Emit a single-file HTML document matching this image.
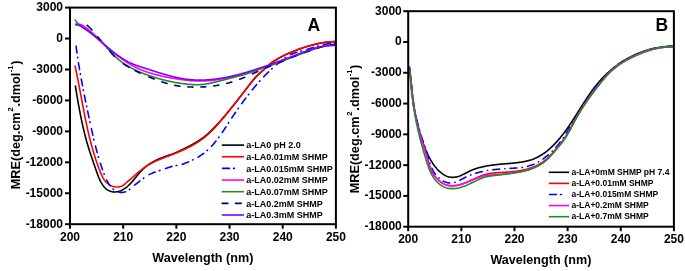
<!DOCTYPE html>
<html><head><meta charset="utf-8"><style>
html,body{margin:0;padding:0;background:#fff;width:685px;height:271px;overflow:hidden}
svg{display:block;font-family:"Liberation Sans",sans-serif;will-change:transform}
</style></head><body>
<svg width="685" height="271" viewBox="0 0 685 271">
<defs><clipPath id="cl"><rect x="71" y="8.6" width="264" height="214.6"/></clipPath><clipPath id="cr"><rect x="409.2" y="12.2" width="263.7" height="213.5"/></clipPath></defs>
<g clip-path="url(#cl)" fill="none" stroke-width="1.6">
<path d="M75.30 85.50 L75.43 86.28 L75.55 87.05 L75.68 87.83 L75.80 88.61 L75.93 89.39 L76.06 90.16 L76.18 90.94 L76.31 91.72 L76.44 92.50 L76.57 93.28 L76.70 94.06 L76.83 94.83 L76.96 95.61 L77.09 96.39 L77.22 97.17 L77.35 97.95 L77.49 98.73 L77.62 99.51 L77.76 100.29 L77.89 101.07 L78.03 101.84 L78.17 102.62 L78.30 103.40 L78.44 104.18 L78.58 104.96 L78.72 105.74 L78.86 106.52 L79.01 107.30 L79.15 108.08 L79.30 108.85 L79.44 109.63 L79.59 110.41 L79.74 111.19 L79.89 111.97 L80.04 112.74 L80.19 113.52 L80.34 114.30 L80.49 115.07 L80.65 115.85 L80.80 116.63 L80.96 117.40 L81.12 118.18 L81.28 118.96 L81.44 119.73 L81.61 120.51 L81.77 121.28 L81.94 122.06 L82.10 122.83 L82.27 123.60 L82.44 124.38 L82.62 125.15 L82.79 125.92 L82.96 126.69 L83.14 127.47 L83.32 128.24 L83.50 129.01 L83.68 129.78 L83.86 130.55 L84.05 131.32 L84.24 132.09 L84.42 132.86 L84.61 133.62 L84.81 134.39 L85.00 135.16 L85.20 135.92 L85.40 136.69 L85.60 137.45 L85.80 138.22 L86.00 138.98 L86.21 139.75 L86.41 140.51 L86.62 141.27 L86.84 142.03 L87.05 142.79 L87.27 143.55 L87.49 144.31 L87.71 145.07 L87.93 145.83 L88.15 146.58 L88.38 147.34 L88.61 148.10 L88.84 148.85 L89.08 149.61 L89.31 150.36 L89.55 151.11 L89.79 151.86 L90.04 152.61 L90.28 153.36 L90.53 154.11 L90.78 154.86 L91.03 155.61 L91.28 156.36 L91.53 157.11 L91.79 157.85 L92.04 158.60 L92.30 159.35 L92.56 160.09 L92.81 160.84 L93.07 161.58 L93.33 162.33 L93.59 163.08 L93.85 163.82 L94.12 164.57 L94.38 165.31 L94.64 166.06 L94.90 166.80 L95.16 167.55 L95.42 168.29 L95.68 169.04 L95.94 169.79 L96.20 170.53 L96.46 171.28 L96.72 172.03 L96.98 172.77 L97.25 173.52 L97.52 174.26 L97.79 175.00 L98.07 175.74 L98.36 176.48 L98.66 177.22 L98.96 177.95 L99.28 178.68 L99.61 179.40 L99.94 180.13 L100.30 180.84 L100.66 181.56 L101.04 182.26 L101.44 182.97 L101.85 183.66 L102.28 184.34 L102.73 185.02 L103.20 185.67 L103.69 186.31 L104.21 186.92 L104.74 187.51 L105.30 188.08 L105.88 188.61 L106.49 189.11 L107.12 189.57 L107.78 190.00 L108.46 190.39 L109.16 190.74 L109.88 191.05 L110.62 191.31 L111.37 191.53 L112.13 191.71 L112.90 191.84 L113.69 191.92 L114.47 191.95 L115.26 191.93 L116.06 191.88 L116.85 191.77 L117.63 191.63 L118.41 191.45 L119.19 191.23 L119.95 190.97 L120.70 190.68 L121.43 190.37 L122.16 190.02 L122.86 189.65 L123.56 189.26 L124.23 188.84 L124.89 188.41 L125.53 187.96 L126.16 187.50 L126.78 187.01 L127.38 186.51 L127.97 186.00 L128.54 185.47 L129.11 184.93 L129.67 184.38 L130.22 183.82 L130.76 183.24 L131.29 182.66 L131.81 182.07 L132.33 181.48 L132.85 180.87 L133.36 180.26 L133.86 179.65 L134.37 179.03 L134.87 178.41 L135.37 177.79 L135.87 177.17 L136.37 176.55 L136.87 175.92 L137.37 175.30 L137.87 174.69 L138.38 174.07 L138.90 173.46 L139.41 172.86 L139.94 172.26 L140.47 171.67 L141.01 171.09 L141.55 170.52 L142.11 169.96 L142.67 169.41 L143.25 168.86 L143.83 168.33 L144.42 167.81 L145.02 167.30 L145.63 166.80 L146.24 166.31 L146.87 165.84 L147.50 165.37 L148.14 164.91 L148.79 164.46 L149.44 164.02 L150.10 163.59 L150.77 163.16 L151.44 162.75 L152.12 162.35 L152.80 161.96 L153.50 161.58 L154.19 161.20 L154.89 160.84 L155.60 160.48 L156.31 160.13 L157.03 159.79 L157.75 159.46 L158.47 159.14 L159.20 158.83 L159.93 158.52 L160.66 158.23 L161.40 157.94 L162.14 157.66 L162.88 157.39 L163.63 157.12 L164.38 156.86 L165.12 156.61 L165.87 156.35 L166.62 156.10 L167.37 155.85 L168.12 155.59 L168.86 155.34 L169.61 155.08 L170.35 154.81 L171.09 154.53 L171.83 154.25 L172.56 153.97 L173.30 153.68 L174.03 153.38 L174.76 153.08 L175.48 152.77 L176.21 152.46 L176.93 152.14 L177.65 151.82 L178.37 151.49 L179.09 151.17 L179.81 150.83 L180.52 150.50 L181.24 150.16 L181.95 149.81 L182.66 149.47 L183.38 149.12 L184.09 148.77 L184.80 148.42 L185.51 148.06 L186.22 147.71 L186.93 147.35 L187.63 146.99 L188.34 146.62 L189.04 146.26 L189.75 145.89 L190.45 145.51 L191.15 145.14 L191.85 144.76 L192.54 144.37 L193.23 143.99 L193.92 143.59 L194.61 143.20 L195.29 142.80 L195.97 142.39 L196.65 141.98 L197.32 141.56 L197.99 141.14 L198.66 140.72 L199.32 140.28 L199.98 139.84 L200.63 139.40 L201.28 138.95 L201.92 138.49 L202.56 138.03 L203.19 137.56 L203.82 137.08 L204.44 136.59 L205.06 136.10 L205.67 135.60 L206.27 135.10 L206.87 134.58 L207.47 134.07 L208.06 133.54 L208.65 133.02 L209.23 132.48 L209.81 131.94 L210.39 131.40 L210.96 130.85 L211.52 130.30 L212.09 129.75 L212.65 129.19 L213.21 128.63 L213.76 128.06 L214.31 127.49 L214.86 126.92 L215.41 126.35 L215.95 125.77 L216.50 125.20 L217.04 124.62 L217.57 124.04 L218.11 123.45 L218.64 122.87 L219.18 122.28 L219.71 121.70 L220.23 121.11 L220.76 120.52 L221.29 119.93 L221.81 119.33 L222.33 118.74 L222.85 118.14 L223.37 117.54 L223.88 116.95 L224.40 116.35 L224.91 115.74 L225.42 115.14 L225.93 114.54 L226.44 113.93 L226.95 113.33 L227.45 112.72 L227.96 112.11 L228.46 111.50 L228.97 110.89 L229.47 110.28 L229.97 109.67 L230.46 109.06 L230.96 108.44 L231.46 107.83 L231.95 107.21 L232.45 106.59 L232.94 105.98 L233.43 105.36 L233.93 104.74 L234.42 104.12 L234.91 103.50 L235.40 102.88 L235.88 102.26 L236.37 101.63 L236.86 101.01 L237.34 100.39 L237.83 99.76 L238.32 99.14 L238.80 98.52 L239.28 97.89 L239.77 97.26 L240.25 96.64 L240.74 96.01 L241.22 95.39 L241.70 94.76 L242.18 94.13 L242.67 93.51 L243.15 92.88 L243.63 92.25 L244.11 91.63 L244.60 91.00 L245.08 90.38 L245.57 89.75 L246.05 89.13 L246.53 88.50 L247.02 87.88 L247.50 87.25 L247.99 86.63 L248.48 86.00 L248.97 85.38 L249.45 84.76 L249.94 84.14 L250.43 83.52 L250.93 82.90 L251.42 82.29 L251.92 81.67 L252.42 81.06 L252.92 80.45 L253.43 79.85 L253.94 79.25 L254.46 78.65 L254.98 78.06 L255.51 77.48 L256.04 76.90 L256.58 76.32 L257.12 75.75 L257.67 75.19 L258.23 74.64 L258.80 74.09 L259.37 73.55 L259.95 73.01 L260.53 72.48 L261.12 71.95 L261.71 71.42 L262.29 70.89 L262.88 70.37 L263.47 69.83 L264.05 69.30 L264.64 68.76 L265.22 68.23 L265.81 67.69 L266.39 67.16 L266.98 66.62 L267.57 66.10 L268.16 65.58 L268.76 65.06 L269.37 64.56 L269.98 64.06 L270.60 63.58 L271.23 63.10 L271.86 62.63 L272.49 62.17 L273.14 61.72 L273.79 61.27 L274.44 60.84 L275.10 60.41 L275.77 59.99 L276.43 59.58 L277.11 59.17 L277.79 58.77 L278.47 58.38 L279.16 57.99 L279.85 57.62 L280.54 57.24 L281.24 56.87 L281.95 56.51 L282.65 56.15 L283.36 55.80 L284.07 55.46 L284.79 55.11 L285.50 54.78 L286.22 54.44 L286.94 54.11 L287.67 53.79 L288.39 53.46 L289.12 53.14 L289.85 52.83 L290.58 52.52 L291.31 52.21 L292.04 51.90 L292.77 51.59 L293.51 51.29 L294.24 51.00 L294.98 50.70 L295.72 50.41 L296.46 50.12 L297.20 49.84 L297.94 49.56 L298.68 49.28 L299.43 49.01 L300.17 48.74 L300.92 48.47 L301.67 48.21 L302.42 47.95 L303.17 47.70 L303.92 47.45 L304.67 47.20 L305.42 46.96 L306.18 46.72 L306.93 46.49 L307.69 46.26 L308.45 46.04 L309.21 45.82 L309.97 45.60 L310.73 45.40 L311.49 45.19 L312.26 44.99 L313.02 44.80 L313.79 44.61 L314.56 44.42 L315.32 44.24 L316.09 44.07 L316.86 43.90 L317.64 43.73 L318.41 43.57 L319.18 43.42 L319.96 43.27 L320.73 43.13 L321.51 43.00 L322.29 42.87 L323.07 42.74 L323.85 42.62 L324.63 42.51 L325.41 42.40 L326.19 42.30 L326.98 42.21 L327.76 42.12 L328.55 42.04 L329.34 41.97 L330.13 41.90 L330.91 41.84 L331.70 41.78 L332.50 41.73 L333.29 41.69 L334.08 41.65 L334.88 41.63 L335.67 41.61 L336.47 41.59 L337.00 41.59" stroke="#000000" />
<path d="M74.93 65.47 L75.11 66.27 L75.28 67.07 L75.46 67.87 L75.63 68.67 L75.80 69.46 L75.97 70.26 L76.14 71.06 L76.31 71.86 L76.48 72.66 L76.64 73.46 L76.81 74.26 L76.97 75.05 L77.13 75.85 L77.29 76.65 L77.45 77.45 L77.61 78.25 L77.77 79.05 L77.93 79.84 L78.09 80.64 L78.24 81.44 L78.40 82.24 L78.55 83.03 L78.71 83.83 L78.86 84.63 L79.02 85.43 L79.17 86.22 L79.32 87.02 L79.47 87.82 L79.62 88.61 L79.77 89.41 L79.92 90.21 L80.07 91.00 L80.22 91.80 L80.37 92.60 L80.52 93.39 L80.67 94.19 L80.82 94.99 L80.97 95.78 L81.12 96.58 L81.27 97.37 L81.42 98.17 L81.56 98.96 L81.71 99.76 L81.86 100.55 L82.01 101.35 L82.16 102.14 L82.31 102.94 L82.46 103.73 L82.61 104.53 L82.76 105.32 L82.91 106.12 L83.06 106.91 L83.21 107.70 L83.36 108.50 L83.52 109.29 L83.67 110.08 L83.82 110.88 L83.97 111.67 L84.13 112.46 L84.28 113.25 L84.44 114.05 L84.60 114.84 L84.75 115.63 L84.91 116.42 L85.07 117.22 L85.23 118.01 L85.39 118.80 L85.55 119.59 L85.71 120.38 L85.88 121.17 L86.04 121.96 L86.21 122.75 L86.38 123.54 L86.54 124.33 L86.71 125.12 L86.88 125.91 L87.05 126.70 L87.23 127.49 L87.40 128.28 L87.58 129.07 L87.75 129.86 L87.93 130.65 L88.11 131.43 L88.29 132.22 L88.48 133.01 L88.66 133.80 L88.85 134.59 L89.03 135.37 L89.22 136.16 L89.41 136.95 L89.61 137.73 L89.80 138.52 L90.00 139.30 L90.20 140.09 L90.40 140.88 L90.60 141.66 L90.80 142.45 L91.01 143.23 L91.22 144.02 L91.43 144.80 L91.64 145.58 L91.85 146.37 L92.07 147.15 L92.29 147.94 L92.51 148.72 L92.73 149.50 L92.96 150.28 L93.19 151.07 L93.42 151.85 L93.65 152.63 L93.88 153.41 L94.12 154.19 L94.36 154.97 L94.60 155.75 L94.85 156.54 L95.10 157.32 L95.35 158.10 L95.60 158.88 L95.86 159.65 L96.12 160.43 L96.38 161.21 L96.64 161.99 L96.91 162.77 L97.18 163.55 L97.45 164.32 L97.73 165.10 L98.01 165.88 L98.29 166.66 L98.58 167.43 L98.86 168.21 L99.16 168.98 L99.45 169.76 L99.75 170.53 L100.05 171.31 L100.36 172.08 L100.67 172.85 L100.99 173.61 L101.32 174.37 L101.66 175.12 L102.01 175.86 L102.37 176.58 L102.75 177.30 L103.14 178.00 L103.55 178.69 L103.97 179.36 L104.41 180.01 L104.87 180.64 L105.36 181.26 L105.86 181.85 L106.39 182.41 L106.94 182.95 L107.52 183.47 L108.13 183.95 L108.76 184.41 L109.43 184.84 L110.12 185.23 L110.85 185.59 L111.61 185.92 L112.39 186.21 L113.19 186.46 L114.00 186.66 L114.83 186.82 L115.67 186.94 L116.51 187.01 L117.34 187.02 L118.17 186.98 L118.99 186.89 L119.79 186.74 L120.57 186.53 L121.32 186.26 L122.05 185.93 L122.74 185.53 L123.41 185.08 L124.06 184.59 L124.69 184.07 L125.31 183.53 L125.93 183.00 L126.56 182.47 L127.18 181.94 L127.81 181.42 L128.44 180.91 L129.07 180.40 L129.69 179.88 L130.31 179.36 L130.93 178.83 L131.54 178.29 L132.15 177.75 L132.76 177.21 L133.36 176.67 L133.96 176.12 L134.56 175.57 L135.16 175.02 L135.76 174.48 L136.37 173.93 L136.97 173.40 L137.58 172.86 L138.19 172.33 L138.81 171.80 L139.42 171.29 L140.05 170.77 L140.68 170.27 L141.31 169.77 L141.95 169.28 L142.59 168.79 L143.24 168.32 L143.90 167.85 L144.56 167.38 L145.23 166.93 L145.90 166.48 L146.58 166.04 L147.27 165.61 L147.96 165.19 L148.67 164.78 L149.37 164.37 L150.09 163.97 L150.80 163.58 L151.53 163.20 L152.25 162.82 L152.98 162.45 L153.72 162.09 L154.45 161.74 L155.19 161.39 L155.93 161.05 L156.68 160.72 L157.42 160.39 L158.16 160.07 L158.91 159.76 L159.65 159.45 L160.40 159.14 L161.15 158.84 L161.89 158.54 L162.64 158.25 L163.39 157.96 L164.14 157.67 L164.89 157.38 L165.64 157.10 L166.39 156.81 L167.15 156.53 L167.90 156.24 L168.65 155.96 L169.41 155.67 L170.16 155.38 L170.92 155.09 L171.67 154.80 L172.43 154.51 L173.18 154.21 L173.94 153.91 L174.70 153.61 L175.45 153.31 L176.21 153.00 L176.96 152.69 L177.72 152.38 L178.47 152.06 L179.22 151.74 L179.97 151.42 L180.72 151.10 L181.47 150.77 L182.22 150.43 L182.97 150.10 L183.71 149.76 L184.45 149.41 L185.19 149.07 L185.93 148.71 L186.67 148.36 L187.40 148.00 L188.13 147.63 L188.86 147.26 L189.59 146.89 L190.31 146.51 L191.03 146.13 L191.75 145.74 L192.46 145.35 L193.17 144.95 L193.88 144.54 L194.58 144.13 L195.28 143.72 L195.98 143.30 L196.67 142.87 L197.35 142.44 L198.04 142.00 L198.71 141.56 L199.39 141.11 L200.06 140.65 L200.72 140.19 L201.38 139.72 L202.03 139.25 L202.68 138.77 L203.32 138.28 L203.96 137.78 L204.59 137.28 L205.22 136.77 L205.84 136.26 L206.46 135.73 L207.07 135.21 L207.67 134.67 L208.28 134.13 L208.87 133.59 L209.47 133.04 L210.05 132.48 L210.64 131.92 L211.22 131.36 L211.79 130.79 L212.37 130.21 L212.93 129.64 L213.50 129.05 L214.06 128.47 L214.62 127.88 L215.17 127.28 L215.72 126.68 L216.27 126.08 L216.82 125.48 L217.36 124.87 L217.90 124.26 L218.43 123.65 L218.97 123.04 L219.50 122.42 L220.03 121.80 L220.56 121.18 L221.09 120.56 L221.61 119.93 L222.14 119.31 L222.66 118.68 L223.18 118.06 L223.70 117.43 L224.21 116.80 L224.73 116.17 L225.25 115.54 L225.76 114.91 L226.27 114.28 L226.79 113.65 L227.30 113.02 L227.81 112.39 L228.32 111.76 L228.84 111.13 L229.35 110.50 L229.86 109.87 L230.36 109.24 L230.87 108.61 L231.38 107.98 L231.89 107.34 L232.39 106.71 L232.90 106.08 L233.40 105.45 L233.91 104.82 L234.41 104.18 L234.92 103.55 L235.42 102.92 L235.92 102.28 L236.42 101.65 L236.92 101.01 L237.42 100.38 L237.93 99.74 L238.42 99.11 L238.92 98.47 L239.42 97.83 L239.92 97.19 L240.42 96.56 L240.91 95.92 L241.41 95.28 L241.91 94.64 L242.40 94.00 L242.90 93.35 L243.39 92.71 L243.89 92.07 L244.38 91.42 L244.87 90.78 L245.36 90.13 L245.86 89.49 L246.35 88.84 L246.84 88.19 L247.33 87.54 L247.82 86.89 L248.31 86.24 L248.80 85.59 L249.29 84.94 L249.78 84.28 L250.27 83.63 L250.76 82.98 L251.25 82.32 L251.75 81.68 L252.25 81.03 L252.75 80.39 L253.27 79.76 L253.78 79.13 L254.31 78.51 L254.84 77.90 L255.38 77.29 L255.93 76.70 L256.49 76.12 L257.07 75.55 L257.65 75.00 L258.25 74.45 L258.86 73.93 L259.48 73.41 L260.11 72.89 L260.74 72.39 L261.37 71.88 L262.00 71.37 L262.63 70.85 L263.24 70.32 L263.84 69.78 L264.43 69.23 L265.02 68.66 L265.59 68.09 L266.16 67.51 L266.73 66.94 L267.31 66.37 L267.88 65.80 L268.47 65.24 L269.07 64.70 L269.69 64.17 L270.32 63.67 L270.96 63.17 L271.62 62.69 L272.28 62.22 L272.96 61.76 L273.64 61.32 L274.32 60.88 L275.02 60.44 L275.71 60.02 L276.41 59.60 L277.11 59.18 L277.81 58.78 L278.52 58.37 L279.23 57.98 L279.94 57.59 L280.65 57.20 L281.37 56.82 L282.09 56.45 L282.81 56.08 L283.53 55.71 L284.26 55.35 L284.99 55.00 L285.72 54.65 L286.46 54.31 L287.19 53.97 L287.93 53.63 L288.67 53.30 L289.41 52.98 L290.16 52.65 L290.91 52.34 L291.65 52.03 L292.40 51.72 L293.16 51.41 L293.91 51.11 L294.67 50.82 L295.42 50.53 L296.18 50.24 L296.94 49.95 L297.70 49.67 L298.47 49.40 L299.23 49.12 L300.00 48.86 L300.77 48.59 L301.54 48.33 L302.31 48.07 L303.08 47.81 L303.85 47.56 L304.62 47.31 L305.40 47.06 L306.17 46.82 L306.95 46.57 L307.72 46.34 L308.50 46.10 L309.28 45.87 L310.06 45.65 L310.84 45.42 L311.63 45.21 L312.41 44.99 L313.19 44.78 L313.98 44.58 L314.77 44.38 L315.55 44.19 L316.34 44.00 L317.13 43.82 L317.92 43.64 L318.71 43.47 L319.51 43.30 L320.30 43.15 L321.10 42.99 L321.90 42.85 L322.69 42.71 L323.49 42.58 L324.29 42.45 L325.09 42.34 L325.90 42.23 L326.70 42.13 L327.51 42.03 L328.31 41.95 L329.12 41.87 L329.93 41.80 L330.74 41.75 L331.55 41.69 L332.37 41.65 L333.18 41.62 L334.00 41.60 L334.81 41.59 L335.63 41.58 L336.45 41.59 L337.00 41.60" stroke="#ff0000" />
<path d="M76.05 46.18 L76.06 46.24 L76.13 46.81 L76.21 47.38 L76.29 47.96 L76.36 48.53 L76.44 49.10 L76.52 49.67 L76.59 50.24 L76.67 50.81 L76.75 51.38 L76.83 51.96 L76.91 52.53 L76.97 52.92M77.59 57.18 L77.62 57.38 L77.68 57.77M78.44 62.71 L78.46 62.78 L78.55 63.35 L78.64 63.92 L78.73 64.49 L78.82 65.06 L78.92 65.63 L79.01 66.19 L79.10 66.76 L79.20 67.33 L79.29 67.90 L79.39 68.47 L79.48 69.03 L79.55 69.42M80.28 73.66 L80.32 73.86 L80.39 74.25M81.24 78.97 L81.29 79.24 L81.39 79.80 L81.49 80.37 L81.60 80.94 L81.70 81.50 L81.81 82.07 L81.92 82.63 L82.02 83.20 L82.13 83.76 L82.24 84.33 L82.34 84.90 L82.45 85.46 L82.49 85.66M83.30 89.88 L83.32 89.98 L83.42 90.47M84.35 95.18 L84.39 95.35 L84.50 95.91 L84.61 96.48 L84.73 97.04 L84.84 97.60 L84.96 98.17 L85.07 98.73 L85.19 99.30 L85.30 99.86 L85.42 100.43 L85.53 100.99 L85.65 101.55 L85.71 101.84M86.58 106.05 L86.58 106.07 L86.70 106.63 L86.70 106.64M87.62 111.04 L87.64 111.14 L87.76 111.71 L87.88 112.27 L88.00 112.83 L88.12 113.40 L88.24 113.96 L88.36 114.52 L88.48 115.09 L88.60 115.65 L88.72 116.22 L88.84 116.78 L88.96 117.34 L89.03 117.69M89.93 121.90 L89.98 122.14 L90.06 122.49M91.38 128.56 L91.39 128.62 L91.51 129.18 L91.64 129.75 L91.76 130.31 L91.89 130.87 L92.01 131.44 L92.14 132.00 L92.26 132.56 L92.39 133.13 L92.52 133.69 L92.64 134.25 L92.77 134.81 L92.86 135.20M93.83 139.38 L93.88 139.59 L93.97 139.97M95.45 146.00 L95.46 146.02 L95.60 146.58 L95.74 147.14 L95.89 147.70 L96.03 148.25 L96.18 148.81 L96.32 149.37 L96.47 149.93 L96.62 150.48 L96.77 151.04 L96.92 151.59 L97.07 152.15 L97.18 152.58M98.35 156.72 L98.39 156.86 L98.52 157.29M100.34 163.24 L100.41 163.46 L100.58 164.01 L100.76 164.55 L100.94 165.10 L101.12 165.65 L101.30 166.19 L101.49 166.74 L101.67 167.28 L101.86 167.82 L102.04 168.37 L102.23 168.91 L102.42 169.45 L102.50 169.68M103.98 173.72 L104.01 173.78 L104.20 174.28M106.68 179.97 L106.75 180.12 L107.01 180.63 L107.28 181.15 L107.55 181.66 L107.83 182.17 L108.11 182.67 L108.40 183.18 L108.70 183.68 L109.00 184.17 L109.32 184.66 L109.64 185.15 L109.97 185.63 L110.12 185.83M113.00 189.01 L113.07 189.07 L113.47 189.39M118.99 192.13 L119.16 192.17 L119.72 192.27 L120.29 192.34 L120.87 192.39 L121.44 192.41 L122.02 192.40 L122.60 192.36 L123.18 192.30 L123.76 192.21 L124.33 192.09 L124.89 191.95 L125.45 191.78 L125.68 191.70M129.42 189.61 L129.46 189.57 L129.88 189.23M134.57 185.15 L134.68 185.07 L135.13 184.71 L135.58 184.36 L136.04 184.01 L136.49 183.65 L136.95 183.30 L137.40 182.95 L137.86 182.60 L138.32 182.24 L138.77 181.89 L139.22 181.53 L139.68 181.17 L139.93 180.97M143.33 178.34 L143.34 178.33 L143.81 177.99 L143.82 177.98M149.05 174.65 L149.13 174.61 L149.64 174.35 L150.15 174.10 L150.67 173.85 L151.19 173.61 L151.71 173.38 L152.24 173.16 L152.77 172.94 L153.30 172.73 L153.84 172.52 L154.38 172.32 L154.92 172.12 L155.30 171.98M159.38 170.62 L159.58 170.55 L159.95 170.44M165.55 168.59 L165.63 168.56 L166.17 168.37 L166.71 168.18 L167.26 167.98 L167.80 167.79 L168.34 167.60 L168.88 167.41 L169.43 167.22 L169.97 167.04 L170.52 166.87 L171.06 166.70 L171.61 166.54 L172.00 166.43M176.21 165.56 L176.39 165.53 L176.80 165.47M182.28 164.31 L182.31 164.30 L182.86 164.12 L183.41 163.94 L183.95 163.74 L184.49 163.53 L185.03 163.31 L185.56 163.09 L186.10 162.86 L186.63 162.63 L187.16 162.40 L187.68 162.16 L188.21 161.93 L188.58 161.76M192.50 160.01 L192.62 159.96 L193.05 159.76M198.09 157.10 L198.22 157.03 L198.72 156.72 L199.22 156.41 L199.71 156.10 L200.21 155.78 L200.70 155.46 L201.19 155.13 L201.67 154.79 L202.15 154.46 L202.63 154.11 L203.10 153.77 L203.57 153.42 L203.72 153.30M207.04 150.57 L207.16 150.47 L207.49 150.17M211.56 146.18 L211.67 146.05 L212.06 145.63 L212.45 145.21 L212.83 144.78 L213.21 144.36 L213.59 143.93 L213.97 143.49 L214.34 143.06 L214.71 142.62 L215.07 142.18 L215.43 141.74 L215.79 141.29 L216.00 141.04M218.62 137.63 L218.76 137.43 L218.98 137.14M222.25 132.48 L222.40 132.26 L222.73 131.78 L223.05 131.30 L223.37 130.82 L223.69 130.34 L224.01 129.86 L224.32 129.38 L224.64 128.89 L224.96 128.41 L225.27 127.93 L225.59 127.44 L225.90 126.96 L226.00 126.81M228.33 123.19 L228.41 123.08 L228.66 122.69M231.77 117.91 L231.88 117.75 L232.19 117.27 L232.51 116.79 L232.83 116.31 L233.16 115.83 L233.48 115.36 L233.80 114.88 L234.12 114.40 L234.45 113.93 L234.77 113.45 L235.10 112.97 L235.42 112.50 L235.58 112.28M238.04 108.75 L238.06 108.72 L238.39 108.26M241.72 103.64 L241.76 103.58 L242.10 103.12 L242.44 102.66 L242.78 102.19 L243.12 101.73 L243.46 101.27 L243.81 100.81 L244.15 100.34 L244.49 99.88 L244.84 99.42 L245.19 98.96 L245.53 98.50 L245.77 98.18M248.38 94.76 L248.51 94.61 L248.75 94.29M252.28 89.82 L252.44 89.63 L252.80 89.18 L253.16 88.73 L253.53 88.28 L253.89 87.84 L254.26 87.39 L254.63 86.95 L254.99 86.50 L255.36 86.06 L255.74 85.62 L256.11 85.18 L256.48 84.74 L256.62 84.58M259.45 81.34 L259.51 81.27 L259.85 80.89M263.73 76.72 L263.82 76.64 L264.22 76.22 L264.62 75.81 L265.02 75.41 L265.43 75.00 L265.83 74.59 L266.24 74.19 L266.65 73.78 L267.06 73.38 L267.47 72.98 L267.89 72.58 L268.30 72.19 L268.56 71.94M271.71 69.00 L271.88 68.84 L272.15 68.60M276.39 64.79 L276.41 64.77 L276.84 64.39 L277.28 64.00 L277.72 63.62 L278.16 63.24 L278.60 62.86 L279.04 62.48 L279.49 62.11 L279.94 61.73 L280.39 61.36 L280.84 61.00 L281.29 60.63 L281.58 60.40M285.04 57.85 L285.24 57.72 L285.54 57.51M290.48 54.68 L290.68 54.58 L291.20 54.34 L291.72 54.11 L292.25 53.89 L292.78 53.67 L293.31 53.47 L293.85 53.27 L294.39 53.07 L294.93 52.88 L295.47 52.70 L296.02 52.52 L296.57 52.35 L296.83 52.27M300.97 51.10 L301.03 51.08 L301.55 50.94M307.04 49.41 L307.18 49.37 L307.73 49.20 L308.28 49.03 L308.84 48.87 L309.39 48.69 L309.94 48.52 L310.49 48.35 L311.04 48.18 L311.59 48.01 L312.14 47.83 L312.69 47.66 L313.24 47.49 L313.53 47.40M317.65 46.15 L317.91 46.08 L318.23 45.99M323.75 44.59 L324.01 44.54 L324.57 44.42 L325.13 44.31 L325.69 44.20 L326.26 44.10 L326.82 44.01 L327.39 43.92 L327.96 43.84 L328.53 43.76 L329.10 43.69 L329.67 43.63 L330.24 43.57 L330.47 43.56M334.76 43.40 L334.91 43.40 L335.36 43.42" stroke="#0000ff" stroke-linecap="round"/>
<path d="M75.00 24.25 L75.60 24.13 L76.19 24.06 L76.78 24.02 L77.35 24.02 L77.91 24.05 L78.47 24.11 L79.02 24.20 L79.56 24.32 L80.09 24.46 L80.61 24.63 L81.13 24.82 L81.65 25.04 L82.15 25.27 L82.65 25.52 L83.14 25.79 L83.63 26.07 L84.12 26.37 L84.59 26.68 L85.07 26.99 L85.54 27.32 L86.00 27.65 L86.46 28.00 L86.92 28.34 L87.38 28.70 L87.83 29.06 L88.28 29.42 L88.72 29.79 L89.17 30.16 L89.61 30.53 L90.04 30.91 L90.48 31.28 L90.92 31.66 L91.35 32.04 L91.78 32.41 L92.21 32.79 L92.64 33.17 L93.07 33.55 L93.49 33.92 L93.92 34.30 L94.34 34.68 L94.76 35.07 L95.18 35.45 L95.60 35.83 L96.01 36.22 L96.42 36.61 L96.83 37.00 L97.24 37.39 L97.65 37.78 L98.06 38.18 L98.46 38.58 L98.87 38.97 L99.27 39.37 L99.68 39.77 L100.08 40.17 L100.48 40.57 L100.88 40.97 L101.28 41.37 L101.68 41.77 L102.09 42.17 L102.49 42.57 L102.89 42.97 L103.30 43.37 L103.70 43.77 L104.11 44.16 L104.51 44.56 L104.92 44.95 L105.33 45.34 L105.74 45.73 L106.16 46.12 L106.57 46.50 L106.99 46.88 L107.41 47.26 L107.83 47.64 L108.26 48.02 L108.68 48.39 L109.11 48.77 L109.54 49.14 L109.97 49.51 L110.40 49.88 L110.83 50.25 L111.27 50.61 L111.70 50.98 L112.14 51.34 L112.58 51.71 L113.01 52.07 L113.45 52.43 L113.89 52.79 L114.34 53.15 L114.78 53.51 L115.22 53.87 L115.67 54.23 L116.12 54.58 L116.56 54.94 L117.01 55.29 L117.46 55.64 L117.91 55.99 L118.37 56.34 L118.82 56.69 L119.28 57.03 L119.73 57.38 L120.19 57.72 L120.65 58.06 L121.11 58.40 L121.57 58.73 L122.03 59.07 L122.50 59.40 L122.96 59.73 L123.43 60.05 L123.90 60.38 L124.37 60.70 L124.84 61.02 L125.32 61.34 L125.79 61.65 L126.27 61.97 L126.74 62.28 L127.22 62.58 L127.70 62.89 L128.18 63.19 L128.67 63.49 L129.15 63.78 L129.64 64.08 L130.13 64.37 L130.62 64.65 L131.11 64.94 L131.60 65.22 L132.10 65.49 L132.59 65.77 L133.09 66.04 L133.59 66.30 L134.09 66.57 L134.60 66.83 L135.10 67.08 L135.61 67.33 L136.12 67.58 L136.63 67.83 L137.14 68.07 L137.65 68.31 L138.16 68.54 L138.68 68.78 L139.20 69.01 L139.72 69.23 L140.24 69.45 L140.76 69.67 L141.28 69.89 L141.80 70.10 L142.33 70.31 L142.86 70.52 L143.39 70.72 L143.92 70.92 L144.45 71.12 L144.98 71.32 L145.51 71.51 L146.05 71.70 L146.58 71.89 L147.12 72.07 L147.66 72.25 L148.20 72.43 L148.73 72.61 L149.28 72.78 L149.82 72.95 L150.36 73.12 L150.90 73.29 L151.45 73.45 L152.00 73.61 L152.54 73.77 L153.09 73.93 L153.64 74.09 L154.19 74.24 L154.74 74.39 L155.29 74.54 L155.84 74.68 L156.39 74.83 L156.94 74.97 L157.50 75.11 L158.05 75.25 L158.61 75.38 L159.16 75.52 L159.72 75.65 L160.28 75.78 L160.83 75.91 L161.39 76.03 L161.95 76.16 L162.51 76.28 L163.07 76.40 L163.63 76.52 L164.19 76.64 L164.75 76.76 L165.31 76.87 L165.87 76.99 L166.43 77.10 L166.99 77.21 L167.55 77.32 L168.11 77.43 L168.68 77.54 L169.24 77.64 L169.80 77.75 L170.36 77.85 L170.93 77.96 L171.49 78.06 L172.05 78.16 L172.62 78.26 L173.18 78.35 L173.74 78.45 L174.31 78.54 L174.87 78.64 L175.43 78.73 L176.00 78.82 L176.56 78.91 L177.12 79.00 L177.69 79.08 L178.25 79.17 L178.82 79.25 L179.38 79.33 L179.95 79.41 L180.51 79.49 L181.08 79.57 L181.64 79.64 L182.20 79.72 L182.77 79.79 L183.33 79.86 L183.90 79.93 L184.46 79.99 L185.03 80.06 L185.59 80.12 L186.16 80.18 L186.72 80.24 L187.29 80.29 L187.86 80.35 L188.42 80.40 L188.99 80.45 L189.55 80.50 L190.12 80.54 L190.68 80.59 L191.25 80.63 L191.81 80.67 L192.38 80.70 L192.95 80.74 L193.51 80.77 L194.08 80.80 L194.64 80.83 L195.21 80.85 L195.78 80.88 L196.34 80.90 L196.91 80.92 L197.47 80.93 L198.04 80.94 L198.60 80.95 L199.17 80.96 L199.74 80.97 L200.30 80.97 L200.87 80.97 L201.43 80.97 L202.00 80.96 L202.57 80.95 L203.13 80.94 L203.70 80.93 L204.26 80.91 L204.83 80.89 L205.40 80.87 L205.96 80.84 L206.53 80.81 L207.09 80.78 L207.66 80.75 L208.22 80.71 L208.79 80.67 L209.36 80.63 L209.92 80.58 L210.49 80.53 L211.05 80.48 L211.62 80.42 L212.18 80.36 L212.75 80.30 L213.31 80.23 L213.88 80.16 L214.44 80.09 L215.01 80.02 L215.57 79.94 L216.14 79.86 L216.70 79.78 L217.27 79.70 L217.83 79.61 L218.40 79.52 L218.96 79.43 L219.52 79.34 L220.09 79.24 L220.65 79.14 L221.21 79.04 L221.77 78.94 L222.34 78.84 L222.90 78.73 L223.46 78.62 L224.02 78.51 L224.58 78.40 L225.14 78.29 L225.70 78.17 L226.26 78.05 L226.82 77.93 L227.38 77.81 L227.94 77.69 L228.50 77.57 L229.05 77.44 L229.61 77.32 L230.17 77.19 L230.72 77.06 L231.28 76.93 L231.84 76.80 L232.39 76.66 L232.95 76.53 L233.50 76.40 L234.05 76.26 L234.61 76.12 L235.16 75.98 L235.71 75.84 L236.27 75.70 L236.82 75.56 L237.37 75.42 L237.92 75.27 L238.47 75.13 L239.02 74.98 L239.57 74.83 L240.12 74.68 L240.67 74.53 L241.22 74.38 L241.77 74.23 L242.31 74.07 L242.86 73.92 L243.41 73.76 L243.95 73.61 L244.50 73.45 L245.05 73.29 L245.59 73.13 L246.14 72.97 L246.68 72.81 L247.23 72.65 L247.77 72.49 L248.32 72.32 L248.86 72.16 L249.40 71.99 L249.95 71.82 L250.49 71.66 L251.03 71.49 L251.58 71.32 L252.12 71.15 L252.66 70.98 L253.20 70.81 L253.74 70.63 L254.28 70.46 L254.82 70.29 L255.36 70.11 L255.90 69.93 L256.44 69.76 L256.98 69.58 L257.52 69.40 L258.06 69.22 L258.60 69.04 L259.14 68.86 L259.68 68.68 L260.22 68.50 L260.75 68.32 L261.29 68.14 L261.83 67.95 L262.37 67.77 L262.90 67.58 L263.44 67.40 L263.98 67.21 L264.51 67.03 L265.05 66.84 L265.59 66.65 L266.12 66.46 L266.66 66.27 L267.19 66.09 L267.73 65.90 L268.27 65.71 L268.80 65.51 L269.34 65.32 L269.87 65.13 L270.41 64.94 L270.94 64.75 L271.47 64.55 L272.01 64.36 L272.54 64.17 L273.08 63.97 L273.61 63.78 L274.14 63.58 L274.68 63.39 L275.21 63.19 L275.75 62.99 L276.28 62.80 L276.81 62.60 L277.35 62.40 L277.88 62.21 L278.41 62.01 L278.94 61.81 L279.48 61.61 L280.01 61.41 L280.54 61.21 L281.08 61.02 L281.61 60.82 L282.14 60.62 L282.67 60.42 L283.21 60.22 L283.74 60.02 L284.27 59.82 L284.80 59.62 L285.34 59.42 L285.87 59.22 L286.40 59.02 L286.93 58.82 L287.47 58.62 L288.00 58.42 L288.53 58.22 L289.06 58.02 L289.60 57.81 L290.13 57.61 L290.66 57.41 L291.20 57.21 L291.73 57.01 L292.26 56.81 L292.79 56.61 L293.33 56.41 L293.86 56.21 L294.39 56.01 L294.93 55.81 L295.46 55.61 L295.99 55.41 L296.53 55.21 L297.06 55.01 L297.59 54.81 L298.13 54.61 L298.66 54.41 L299.19 54.22 L299.73 54.02 L300.26 53.82 L300.80 53.62 L301.33 53.42 L301.86 53.23 L302.40 53.03 L302.93 52.83 L303.47 52.64 L304.00 52.44 L304.54 52.24 L305.07 52.05 L305.61 51.85 L306.15 51.66 L306.68 51.47 L307.22 51.27 L307.75 51.08 L308.29 50.89 L308.83 50.70 L309.37 50.51 L309.90 50.32 L310.44 50.14 L310.98 49.95 L311.52 49.77 L312.06 49.59 L312.60 49.41 L313.14 49.23 L313.68 49.06 L314.22 48.89 L314.76 48.72 L315.31 48.55 L315.85 48.39 L316.39 48.23 L316.94 48.07 L317.48 47.91 L318.03 47.76 L318.58 47.61 L319.12 47.47 L319.67 47.33 L320.22 47.19 L320.77 47.05 L321.32 46.92 L321.87 46.80 L322.43 46.68 L322.98 46.56 L323.54 46.45 L324.09 46.34 L324.65 46.24 L325.21 46.14 L325.76 46.04 L326.32 45.95 L326.88 45.87 L327.45 45.79 L328.01 45.72 L328.57 45.65 L329.14 45.59 L329.71 45.54 L330.27 45.49 L330.84 45.45 L331.41 45.41 L331.99 45.38 L332.56 45.35 L333.13 45.34 L333.71 45.32 L334.29 45.32 L334.86 45.32 L335.44 45.33 L336.03 45.35 L336.61 45.37 L337.00 45.40" stroke="#ff00ff" />
<path d="M74.99 19.31 L75.28 19.84 L75.58 20.36 L75.90 20.86 L76.23 21.34 L76.57 21.82 L76.93 22.27 L77.30 22.72 L77.67 23.15 L78.06 23.58 L78.46 23.99 L78.87 24.39 L79.29 24.78 L79.71 25.16 L80.15 25.53 L80.59 25.89 L81.04 26.25 L81.49 26.60 L81.95 26.94 L82.42 27.28 L82.89 27.61 L83.37 27.93 L83.85 28.26 L84.33 28.57 L84.82 28.89 L85.31 29.20 L85.80 29.51 L86.30 29.82 L86.79 30.13 L87.29 30.44 L87.78 30.74 L88.28 31.05 L88.77 31.36 L89.26 31.67 L89.75 31.99 L90.24 32.31 L90.73 32.63 L91.21 32.95 L91.69 33.28 L92.16 33.62 L92.63 33.96 L93.09 34.31 L93.55 34.66 L94.00 35.02 L94.45 35.38 L94.90 35.75 L95.34 36.12 L95.78 36.50 L96.22 36.88 L96.65 37.26 L97.07 37.65 L97.50 38.04 L97.92 38.44 L98.34 38.84 L98.75 39.25 L99.17 39.65 L99.58 40.06 L99.99 40.47 L100.39 40.89 L100.80 41.30 L101.20 41.72 L101.60 42.14 L102.00 42.56 L102.40 42.99 L102.80 43.41 L103.20 43.83 L103.59 44.26 L103.99 44.69 L104.38 45.11 L104.78 45.54 L105.17 45.97 L105.56 46.40 L105.96 46.82 L106.35 47.25 L106.75 47.67 L107.15 48.10 L107.54 48.52 L107.94 48.95 L108.34 49.37 L108.73 49.79 L109.13 50.22 L109.53 50.64 L109.93 51.06 L110.33 51.48 L110.73 51.90 L111.13 52.32 L111.53 52.73 L111.93 53.15 L112.34 53.57 L112.74 53.98 L113.14 54.40 L113.55 54.81 L113.96 55.22 L114.37 55.63 L114.78 56.04 L115.19 56.44 L115.61 56.85 L116.02 57.24 L116.45 57.64 L116.87 58.03 L117.30 58.42 L117.73 58.80 L118.17 59.18 L118.61 59.55 L119.05 59.92 L119.50 60.28 L119.96 60.64 L120.41 61.00 L120.87 61.35 L121.34 61.69 L121.80 62.04 L122.27 62.37 L122.74 62.71 L123.22 63.04 L123.70 63.36 L124.18 63.69 L124.66 64.00 L125.15 64.32 L125.64 64.63 L126.13 64.94 L126.62 65.24 L127.12 65.54 L127.61 65.84 L128.11 66.14 L128.61 66.43 L129.11 66.72 L129.62 67.00 L130.12 67.29 L130.63 67.57 L131.14 67.84 L131.65 68.11 L132.16 68.39 L132.68 68.65 L133.19 68.92 L133.71 69.18 L134.23 69.44 L134.75 69.69 L135.27 69.94 L135.80 70.19 L136.32 70.44 L136.85 70.69 L137.37 70.93 L137.90 71.17 L138.43 71.40 L138.96 71.64 L139.49 71.87 L140.02 72.10 L140.56 72.32 L141.09 72.55 L141.63 72.77 L142.17 72.99 L142.70 73.20 L143.24 73.42 L143.78 73.63 L144.32 73.84 L144.86 74.04 L145.41 74.25 L145.95 74.45 L146.49 74.65 L147.04 74.85 L147.58 75.04 L148.13 75.24 L148.67 75.43 L149.22 75.62 L149.77 75.81 L150.32 76.00 L150.86 76.18 L151.41 76.37 L151.96 76.55 L152.51 76.73 L153.07 76.91 L153.62 77.08 L154.17 77.26 L154.72 77.43 L155.28 77.60 L155.83 77.77 L156.38 77.94 L156.94 78.10 L157.49 78.27 L158.05 78.43 L158.61 78.59 L159.16 78.75 L159.72 78.90 L160.28 79.06 L160.84 79.21 L161.40 79.36 L161.96 79.51 L162.52 79.65 L163.08 79.80 L163.64 79.94 L164.20 80.08 L164.76 80.22 L165.32 80.36 L165.89 80.50 L166.45 80.63 L167.01 80.76 L167.58 80.89 L168.14 81.02 L168.71 81.15 L169.27 81.27 L169.84 81.39 L170.40 81.51 L170.97 81.63 L171.54 81.75 L172.11 81.86 L172.67 81.97 L173.24 82.08 L173.81 82.19 L174.38 82.30 L174.95 82.40 L175.52 82.50 L176.09 82.60 L176.66 82.70 L177.23 82.80 L177.81 82.89 L178.38 82.99 L178.95 83.08 L179.52 83.16 L180.10 83.25 L180.67 83.34 L181.24 83.42 L181.82 83.50 L182.39 83.58 L182.97 83.65 L183.54 83.73 L184.12 83.80 L184.69 83.87 L185.27 83.93 L185.85 84.00 L186.42 84.06 L187.00 84.13 L187.58 84.18 L188.15 84.24 L188.73 84.30 L189.31 84.35 L189.89 84.40 L190.47 84.45 L191.05 84.50 L191.63 84.54 L192.21 84.58 L192.78 84.62 L193.36 84.65 L193.94 84.68 L194.52 84.71 L195.10 84.73 L195.68 84.74 L196.26 84.76 L196.84 84.76 L197.42 84.76 L198.00 84.76 L198.57 84.74 L199.15 84.73 L199.73 84.70 L200.31 84.67 L200.88 84.63 L201.46 84.58 L202.03 84.53 L202.61 84.47 L203.18 84.40 L203.75 84.33 L204.32 84.25 L204.90 84.17 L205.47 84.08 L206.04 83.99 L206.61 83.90 L207.18 83.80 L207.75 83.69 L208.32 83.59 L208.89 83.48 L209.45 83.36 L210.02 83.25 L210.59 83.13 L211.16 83.01 L211.72 82.89 L212.29 82.76 L212.85 82.64 L213.42 82.51 L213.98 82.38 L214.55 82.25 L215.11 82.11 L215.67 81.98 L216.24 81.84 L216.80 81.71 L217.36 81.57 L217.92 81.43 L218.49 81.29 L219.05 81.14 L219.61 81.00 L220.17 80.86 L220.73 80.71 L221.29 80.57 L221.85 80.42 L222.41 80.28 L222.97 80.13 L223.54 79.98 L224.10 79.83 L224.66 79.69 L225.22 79.54 L225.78 79.39 L226.34 79.24 L226.90 79.10 L227.46 78.95 L228.02 78.80 L228.58 78.65 L229.14 78.51 L229.70 78.36 L230.27 78.22 L230.83 78.07 L231.39 77.93 L231.95 77.79 L232.51 77.64 L233.07 77.50 L233.63 77.36 L234.20 77.21 L234.76 77.07 L235.32 76.93 L235.88 76.78 L236.44 76.64 L237.00 76.50 L237.56 76.35 L238.13 76.21 L238.69 76.06 L239.25 75.91 L239.81 75.77 L240.37 75.62 L240.93 75.47 L241.48 75.32 L242.04 75.16 L242.60 75.01 L243.16 74.85 L243.71 74.70 L244.27 74.54 L244.83 74.38 L245.38 74.21 L245.94 74.05 L246.49 73.88 L247.04 73.71 L247.60 73.54 L248.15 73.36 L248.70 73.19 L249.25 73.01 L249.80 72.83 L250.35 72.64 L250.90 72.46 L251.44 72.27 L251.99 72.08 L252.54 71.88 L253.08 71.69 L253.63 71.49 L254.17 71.29 L254.71 71.09 L255.26 70.89 L255.80 70.68 L256.34 70.48 L256.88 70.27 L257.42 70.06 L257.96 69.85 L258.50 69.64 L259.04 69.43 L259.58 69.21 L260.11 69.00 L260.65 68.79 L261.19 68.57 L261.73 68.36 L262.27 68.15 L262.80 67.94 L263.34 67.74 L263.89 67.53 L264.43 67.33 L264.97 67.14 L265.51 66.94 L266.06 66.75 L266.60 66.57 L267.15 66.38 L267.70 66.21 L268.25 66.04 L268.80 65.87 L269.36 65.70 L269.91 65.54 L270.46 65.37 L271.02 65.21 L271.57 65.05 L272.12 64.89 L272.68 64.72 L273.23 64.56 L273.78 64.39 L274.33 64.22 L274.88 64.04 L275.43 63.86 L275.98 63.68 L276.53 63.49 L277.07 63.30 L277.61 63.10 L278.15 62.90 L278.70 62.70 L279.24 62.49 L279.77 62.28 L280.31 62.07 L280.85 61.86 L281.39 61.64 L281.92 61.42 L282.46 61.20 L282.99 60.98 L283.53 60.76 L284.06 60.54 L284.60 60.31 L285.13 60.09 L285.67 59.86 L286.20 59.64 L286.74 59.42 L287.27 59.19 L287.81 58.97 L288.34 58.75 L288.88 58.53 L289.41 58.31 L289.95 58.09 L290.49 57.87 L291.02 57.66 L291.56 57.45 L292.10 57.24 L292.64 57.03 L293.18 56.82 L293.72 56.61 L294.26 56.41 L294.81 56.21 L295.35 56.00 L295.89 55.80 L296.43 55.60 L296.98 55.40 L297.52 55.20 L298.06 55.00 L298.61 54.80 L299.15 54.60 L299.70 54.41 L300.24 54.21 L300.78 54.01 L301.33 53.81 L301.87 53.61 L302.42 53.42 L302.96 53.22 L303.51 53.02 L304.05 52.82 L304.60 52.62 L305.14 52.42 L305.69 52.22 L306.23 52.01 L306.77 51.81 L307.32 51.61 L307.86 51.41 L308.41 51.20 L308.95 51.00 L309.50 50.80 L310.04 50.60 L310.58 50.40 L311.13 50.20 L311.68 50.00 L312.22 49.81 L312.77 49.61 L313.31 49.42 L313.86 49.23 L314.41 49.04 L314.96 48.86 L315.51 48.68 L316.06 48.50 L316.61 48.32 L317.16 48.15 L317.71 47.97 L318.26 47.81 L318.81 47.64 L319.37 47.49 L319.92 47.33 L320.48 47.18 L321.04 47.03 L321.59 46.89 L322.15 46.76 L322.71 46.62 L323.27 46.50 L323.84 46.38 L324.40 46.26 L324.97 46.15 L325.53 46.05 L326.10 45.95 L326.67 45.86 L327.24 45.77 L327.81 45.70 L328.39 45.63 L328.96 45.56 L329.54 45.50 L330.12 45.46 L330.70 45.41 L331.28 45.38 L331.86 45.36 L332.45 45.34 L333.03 45.33 L333.62 45.33 L334.21 45.34 L334.81 45.35 L335.40 45.38 L336.00 45.42 L336.60 45.46 L337.00 45.50" stroke="#228b22" />
<path d="M87.19 25.36 L87.34 25.48 L87.62 25.72 L87.90 25.97 L88.19 26.21 L88.46 26.46 L88.74 26.71 L89.01 26.97 L89.28 27.22 L89.55 27.48 L89.82 27.74 L90.09 28.00 L90.35 28.26 L90.61 28.52 L90.87 28.79 L91.13 29.06 L91.38 29.33 L91.64 29.60 L91.89 29.87 L91.89 29.87M97.81 36.82 L97.92 36.96 L98.16 37.25 L98.40 37.54 L98.64 37.82 L98.88 38.11 L99.11 38.39 L99.35 38.68 L99.59 38.97 L99.83 39.25 L100.07 39.54 L100.31 39.82 L100.54 40.11 L100.78 40.39 L100.78 40.39M109.91 51.22 L110.03 51.36 L110.27 51.64 L110.51 51.93 L110.75 52.21 L111.00 52.50 L111.24 52.78 L111.49 53.06 L111.73 53.34 L111.98 53.62 L112.23 53.90 L112.47 54.18 L112.72 54.46 L112.97 54.73 L113.22 55.01 L113.48 55.28 L113.73 55.56 L113.98 55.83 L114.24 56.10 L114.50 56.37 L114.50 56.37M123.34 63.77 L123.49 63.88 L123.80 64.08 L124.11 64.29 L124.43 64.50 L124.74 64.70 L125.06 64.90 L125.37 65.10 L125.69 65.30 L126.00 65.50 L126.32 65.70 L126.64 65.89 L126.96 66.09 L127.28 66.28 L127.60 66.48 L127.92 66.67 L128.24 66.86 L128.56 67.05 L128.88 67.23 L129.04 67.33M135.25 70.70 L135.42 70.79 L135.75 70.95 L136.08 71.12 L136.41 71.29 L136.74 71.45 L137.08 71.62 L137.41 71.78 L137.75 71.94 L138.08 72.10 L138.41 72.27 L138.75 72.43 L139.09 72.59 L139.42 72.74 L139.76 72.90 L140.09 73.06 L140.09 73.06M148.96 76.94 L149.14 77.02 L149.48 77.16 L149.83 77.30 L150.17 77.44 L150.52 77.58 L150.86 77.72 L151.21 77.86 L151.56 78.00 L151.90 78.14 L152.25 78.28 L152.60 78.42 L152.94 78.56 L153.29 78.70 L153.64 78.83 L153.99 78.97 L154.16 79.04M161.89 81.85 L162.06 81.91 L162.42 82.03 L162.77 82.15 L163.13 82.26 L163.48 82.38 L163.84 82.49 L164.19 82.60 L164.55 82.71 L164.91 82.82 L165.26 82.93 L165.62 83.04 L165.98 83.15 L166.33 83.25 L166.69 83.36 L167.05 83.46 L167.05 83.46M174.81 85.35 L175.00 85.38 L175.36 85.45 L175.73 85.52 L176.09 85.59 L176.46 85.65 L176.82 85.72 L177.19 85.78 L177.56 85.84 L177.92 85.90 L178.29 85.95 L178.66 86.01 L179.03 86.06 L179.39 86.11 L179.76 86.16 L179.95 86.19M187.92 86.91 L188.10 86.92 L188.48 86.94 L188.85 86.96 L189.22 86.97 L189.60 86.99 L189.97 87.01 L190.34 87.02 L190.71 87.03 L191.09 87.05 L191.46 87.06 L191.83 87.07 L192.21 87.08 L192.58 87.09 L192.95 87.10 L192.95 87.10M200.80 87.03 L200.98 87.03 L201.36 87.01 L201.73 87.00 L202.10 86.98 L202.48 86.96 L202.85 86.94 L203.22 86.92 L203.60 86.90 L203.97 86.88 L204.34 86.86 L204.72 86.83 L205.09 86.81 L205.46 86.78 L205.83 86.76 L205.83 86.76M213.81 85.92 L213.99 85.89 L214.36 85.84 L214.73 85.78 L215.10 85.73 L215.47 85.68 L215.84 85.62 L216.21 85.56 L216.58 85.50 L216.94 85.44 L217.31 85.38 L217.68 85.32 L218.05 85.26 L218.41 85.19 L218.78 85.13 L218.78 85.13M226.78 83.39 L226.96 83.34 L227.32 83.25 L227.68 83.15 L228.04 83.06 L228.40 82.96 L228.76 82.86 L229.11 82.76 L229.47 82.66 L229.83 82.56 L230.19 82.45 L230.54 82.35 L230.90 82.24 L231.26 82.14 L231.61 82.03 L231.79 81.98M239.71 79.25 L239.89 79.18 L240.23 79.05 L240.58 78.92 L240.93 78.78 L241.28 78.65 L241.62 78.51 L241.97 78.37 L242.32 78.24 L242.67 78.10 L243.01 77.96 L243.36 77.82 L243.70 77.68 L244.05 77.54 L244.39 77.40 L244.74 77.25 L244.74 77.25M252.61 73.83 L252.78 73.75 L253.12 73.60 L253.46 73.45 L253.80 73.29 L254.14 73.14 L254.48 72.98 L254.82 72.82 L255.16 72.67 L255.50 72.51 L255.84 72.36 L256.18 72.20 L256.52 72.04 L256.85 71.89 L257.19 71.73 L257.53 71.57 L257.70 71.50M265.50 67.97 L265.67 67.90 L266.01 67.76 L266.35 67.62 L266.70 67.48 L267.05 67.34 L267.39 67.21 L267.74 67.07 L268.09 66.94 L268.43 66.81 L268.78 66.68 L269.13 66.55 L269.48 66.42 L269.83 66.29 L270.18 66.16 L270.53 66.04 L270.71 65.97M278.54 62.99 L278.71 62.92 L279.06 62.78 L279.40 62.63 L279.75 62.49 L280.09 62.34 L280.43 62.20 L280.77 62.05 L281.12 61.90 L281.46 61.76 L281.80 61.61 L282.14 61.46 L282.48 61.31 L282.83 61.17 L283.17 61.02 L283.51 60.87 L283.68 60.79M291.38 57.49 L291.56 57.42 L291.90 57.28 L292.25 57.14 L292.59 57.00 L292.94 56.86 L293.28 56.72 L293.63 56.58 L293.98 56.44 L294.32 56.31 L294.67 56.17 L295.02 56.04 L295.36 55.90 L295.71 55.77 L296.06 55.63 L296.41 55.50 L296.58 55.43M304.46 52.54 L304.64 52.48 L304.99 52.35 L305.34 52.23 L305.69 52.10 L306.04 51.98 L306.39 51.86 L306.75 51.74 L307.10 51.61 L307.45 51.49 L307.80 51.37 L308.16 51.25 L308.51 51.13 L308.86 51.00 L309.21 50.88 L309.57 50.76 L309.57 50.76M317.33 48.13 L317.51 48.07 L317.86 47.95 L318.21 47.83 L318.56 47.71 L318.92 47.59 L319.27 47.47 L319.62 47.36 L319.97 47.24 L320.32 47.12 L320.68 47.00 L321.03 46.88 L321.38 46.76 L321.73 46.64 L322.08 46.53 L322.44 46.41 L322.44 46.41M330.38 44.65 L330.56 44.64 L330.94 44.62 L331.32 44.60 L331.69 44.60 L332.07 44.60 L332.46 44.60 L332.84 44.62 L333.23 44.64 L333.61 44.67 L334.00 44.71 L334.40 44.76 L334.79 44.82 L335.19 44.88 L335.38 44.92" stroke="#000080" stroke-linecap="round"/>
<path d="M75.03 24.81 L75.62 24.80 L76.20 24.82 L76.76 24.87 L77.32 24.95 L77.86 25.06 L78.40 25.20 L78.93 25.36 L79.44 25.55 L79.95 25.75 L80.46 25.98 L80.95 26.22 L81.44 26.48 L81.92 26.76 L82.40 27.05 L82.88 27.35 L83.35 27.66 L83.81 27.97 L84.28 28.30 L84.74 28.63 L85.20 28.96 L85.66 29.29 L86.12 29.62 L86.57 29.96 L87.03 30.30 L87.48 30.64 L87.93 30.98 L88.39 31.32 L88.84 31.66 L89.29 32.01 L89.73 32.36 L90.18 32.70 L90.63 33.05 L91.07 33.40 L91.52 33.76 L91.96 34.11 L92.40 34.46 L92.84 34.82 L93.28 35.18 L93.72 35.54 L94.16 35.89 L94.60 36.25 L95.04 36.61 L95.47 36.98 L95.91 37.34 L96.34 37.70 L96.77 38.07 L97.21 38.43 L97.64 38.80 L98.07 39.16 L98.50 39.53 L98.93 39.90 L99.36 40.27 L99.79 40.63 L100.22 41.00 L100.64 41.37 L101.07 41.74 L101.50 42.11 L101.93 42.48 L102.35 42.85 L102.78 43.22 L103.21 43.59 L103.63 43.96 L104.06 44.32 L104.49 44.69 L104.92 45.06 L105.34 45.43 L105.77 45.79 L106.20 46.16 L106.63 46.53 L107.06 46.89 L107.49 47.26 L107.92 47.62 L108.35 47.98 L108.78 48.34 L109.22 48.71 L109.65 49.06 L110.09 49.42 L110.52 49.78 L110.96 50.14 L111.40 50.49 L111.83 50.85 L112.27 51.20 L112.72 51.55 L113.16 51.90 L113.60 52.25 L114.05 52.59 L114.49 52.94 L114.94 53.28 L115.39 53.62 L115.84 53.96 L116.30 54.29 L116.75 54.63 L117.21 54.96 L117.67 55.29 L118.13 55.62 L118.59 55.95 L119.05 56.27 L119.52 56.59 L119.99 56.91 L120.46 57.23 L120.93 57.54 L121.41 57.85 L121.88 58.16 L122.36 58.46 L122.84 58.76 L123.32 59.06 L123.81 59.35 L124.29 59.65 L124.78 59.93 L125.27 60.22 L125.76 60.50 L126.25 60.78 L126.75 61.05 L127.24 61.32 L127.74 61.59 L128.24 61.85 L128.75 62.10 L129.25 62.36 L129.76 62.61 L130.26 62.85 L130.77 63.09 L131.28 63.32 L131.80 63.56 L132.31 63.78 L132.83 64.00 L133.35 64.22 L133.87 64.43 L134.39 64.63 L134.91 64.83 L135.44 65.03 L135.96 65.22 L136.49 65.41 L137.02 65.60 L137.55 65.78 L138.08 65.96 L138.61 66.14 L139.15 66.31 L139.68 66.48 L140.22 66.66 L140.75 66.83 L141.29 67.00 L141.82 67.17 L142.36 67.35 L142.89 67.52 L143.43 67.69 L143.97 67.87 L144.50 68.04 L145.04 68.22 L145.58 68.39 L146.12 68.57 L146.65 68.74 L147.19 68.92 L147.73 69.10 L148.27 69.27 L148.81 69.45 L149.35 69.62 L149.89 69.80 L150.42 69.98 L150.96 70.15 L151.50 70.33 L152.04 70.50 L152.58 70.68 L153.12 70.85 L153.66 71.03 L154.21 71.20 L154.75 71.38 L155.29 71.55 L155.83 71.72 L156.37 71.90 L156.91 72.07 L157.46 72.24 L158.00 72.41 L158.54 72.58 L159.08 72.75 L159.63 72.91 L160.17 73.08 L160.71 73.25 L161.26 73.41 L161.80 73.58 L162.35 73.74 L162.89 73.90 L163.44 74.06 L163.98 74.22 L164.53 74.38 L165.07 74.54 L165.62 74.70 L166.17 74.85 L166.71 75.00 L167.26 75.16 L167.81 75.31 L168.35 75.46 L168.90 75.60 L169.45 75.75 L170.00 75.89 L170.55 76.04 L171.09 76.18 L171.64 76.32 L172.19 76.45 L172.74 76.59 L173.29 76.72 L173.84 76.85 L174.39 76.98 L174.94 77.11 L175.49 77.24 L176.05 77.36 L176.60 77.48 L177.15 77.60 L177.70 77.71 L178.25 77.83 L178.80 77.94 L179.36 78.05 L179.91 78.16 L180.46 78.26 L181.02 78.36 L181.57 78.46 L182.13 78.56 L182.68 78.65 L183.24 78.75 L183.79 78.83 L184.35 78.92 L184.90 79.00 L185.46 79.08 L186.01 79.16 L186.57 79.24 L187.13 79.31 L187.68 79.38 L188.24 79.44 L188.80 79.50 L189.36 79.56 L189.92 79.62 L190.48 79.67 L191.03 79.72 L191.59 79.77 L192.15 79.81 L192.71 79.85 L193.27 79.89 L193.83 79.92 L194.39 79.95 L194.95 79.98 L195.52 80.00 L196.08 80.02 L196.64 80.04 L197.20 80.06 L197.76 80.07 L198.32 80.08 L198.89 80.08 L199.45 80.09 L200.01 80.09 L200.57 80.09 L201.14 80.08 L201.70 80.07 L202.26 80.06 L202.82 80.05 L203.39 80.03 L203.95 80.01 L204.51 79.99 L205.08 79.97 L205.64 79.94 L206.20 79.91 L206.77 79.88 L207.33 79.84 L207.89 79.81 L208.46 79.77 L209.02 79.72 L209.58 79.68 L210.15 79.63 L210.71 79.58 L211.27 79.53 L211.83 79.48 L212.40 79.42 L212.96 79.36 L213.52 79.30 L214.08 79.24 L214.65 79.17 L215.21 79.10 L215.77 79.03 L216.33 78.96 L216.89 78.88 L217.46 78.81 L218.02 78.73 L218.58 78.65 L219.14 78.56 L219.70 78.48 L220.26 78.39 L220.82 78.30 L221.38 78.21 L221.94 78.12 L222.50 78.02 L223.06 77.92 L223.62 77.82 L224.18 77.72 L224.74 77.62 L225.29 77.52 L225.85 77.41 L226.41 77.30 L226.96 77.19 L227.52 77.08 L228.08 76.97 L228.63 76.85 L229.19 76.74 L229.74 76.62 L230.30 76.50 L230.85 76.38 L231.41 76.25 L231.96 76.13 L232.51 76.00 L233.06 75.87 L233.62 75.74 L234.17 75.61 L234.72 75.48 L235.27 75.35 L235.82 75.21 L236.37 75.08 L236.92 74.94 L237.47 74.80 L238.01 74.66 L238.56 74.52 L239.11 74.38 L239.65 74.23 L240.20 74.09 L240.75 73.94 L241.29 73.79 L241.84 73.64 L242.38 73.49 L242.92 73.34 L243.47 73.19 L244.01 73.04 L244.55 72.88 L245.10 72.73 L245.64 72.57 L246.18 72.41 L246.72 72.25 L247.26 72.09 L247.80 71.93 L248.34 71.77 L248.88 71.61 L249.42 71.44 L249.96 71.28 L250.50 71.11 L251.04 70.95 L251.57 70.78 L252.11 70.61 L252.65 70.44 L253.19 70.27 L253.72 70.10 L254.26 69.93 L254.80 69.75 L255.33 69.58 L255.87 69.41 L256.40 69.23 L256.94 69.06 L257.48 68.88 L258.01 68.70 L258.55 68.52 L259.08 68.35 L259.61 68.17 L260.15 67.99 L260.68 67.81 L261.22 67.62 L261.75 67.44 L262.28 67.26 L262.82 67.08 L263.35 66.90 L263.88 66.71 L264.41 66.53 L264.95 66.34 L265.48 66.16 L266.01 65.97 L266.54 65.78 L267.08 65.60 L267.61 65.41 L268.14 65.22 L268.67 65.04 L269.20 64.85 L269.74 64.66 L270.27 64.47 L270.80 64.28 L271.33 64.09 L271.86 63.90 L272.39 63.71 L272.93 63.52 L273.46 63.33 L273.99 63.14 L274.52 62.95 L275.05 62.76 L275.58 62.57 L276.11 62.37 L276.64 62.18 L277.17 61.99 L277.71 61.80 L278.24 61.60 L278.77 61.41 L279.30 61.22 L279.83 61.02 L280.36 60.83 L280.89 60.63 L281.42 60.44 L281.95 60.25 L282.48 60.05 L283.01 59.85 L283.54 59.66 L284.07 59.46 L284.60 59.27 L285.13 59.07 L285.66 58.88 L286.19 58.68 L286.72 58.48 L287.25 58.29 L287.78 58.09 L288.31 57.89 L288.84 57.69 L289.37 57.50 L289.90 57.30 L290.43 57.10 L290.96 56.90 L291.49 56.70 L292.02 56.51 L292.55 56.31 L293.08 56.11 L293.61 55.91 L294.14 55.71 L294.66 55.51 L295.19 55.31 L295.72 55.11 L296.25 54.91 L296.78 54.71 L297.31 54.51 L297.84 54.31 L298.37 54.11 L298.90 53.91 L299.43 53.71 L299.96 53.51 L300.48 53.31 L301.01 53.11 L301.54 52.91 L302.07 52.71 L302.60 52.51 L303.13 52.31 L303.66 52.11 L304.19 51.91 L304.72 51.72 L305.25 51.52 L305.78 51.33 L306.31 51.13 L306.84 50.94 L307.37 50.75 L307.90 50.56 L308.43 50.37 L308.96 50.18 L309.49 49.99 L310.03 49.81 L310.56 49.63 L311.09 49.45 L311.63 49.27 L312.16 49.09 L312.70 48.92 L313.23 48.75 L313.77 48.58 L314.31 48.42 L314.84 48.26 L315.38 48.10 L315.92 47.94 L316.46 47.79 L317.00 47.64 L317.54 47.49 L318.09 47.35 L318.63 47.21 L319.17 47.07 L319.72 46.94 L320.26 46.81 L320.81 46.69 L321.36 46.57 L321.91 46.45 L322.46 46.34 L323.01 46.24 L323.56 46.13 L324.11 46.04 L324.67 45.94 L325.22 45.86 L325.78 45.77 L326.34 45.69 L326.90 45.62 L327.46 45.55 L328.02 45.49 L328.58 45.44 L329.15 45.39 L329.71 45.34 L330.28 45.30 L330.85 45.27 L331.42 45.24 L331.99 45.22 L332.56 45.21 L333.14 45.20 L333.71 45.20 L334.29 45.20 L334.87 45.21 L335.45 45.23 L336.03 45.26 L336.62 45.29 L337.01 45.31" stroke="#8000ff" />
</g>
<rect x="70.00" y="7.60" width="265.90" height="216.60" fill="none" stroke="#000" stroke-width="2"/>
<line x1="65.00" y1="7.60" x2="70.00" y2="7.60" stroke="#000" stroke-width="2"/>
<text x="63.00" y="11.10" text-anchor="end" font-size="12" font-family="Liberation Sans, sans-serif" font-weight="bold">3000</text>
<line x1="65.00" y1="38.54" x2="70.00" y2="38.54" stroke="#000" stroke-width="2"/>
<text x="63.00" y="42.04" text-anchor="end" font-size="12" font-family="Liberation Sans, sans-serif" font-weight="bold">0</text>
<line x1="65.00" y1="69.49" x2="70.00" y2="69.49" stroke="#000" stroke-width="2"/>
<text x="63.00" y="72.99" text-anchor="end" font-size="12" font-family="Liberation Sans, sans-serif" font-weight="bold">-3000</text>
<line x1="65.00" y1="100.43" x2="70.00" y2="100.43" stroke="#000" stroke-width="2"/>
<text x="63.00" y="103.93" text-anchor="end" font-size="12" font-family="Liberation Sans, sans-serif" font-weight="bold">-6000</text>
<line x1="65.00" y1="131.37" x2="70.00" y2="131.37" stroke="#000" stroke-width="2"/>
<text x="63.00" y="134.87" text-anchor="end" font-size="12" font-family="Liberation Sans, sans-serif" font-weight="bold">-9000</text>
<line x1="65.00" y1="162.31" x2="70.00" y2="162.31" stroke="#000" stroke-width="2"/>
<text x="63.00" y="165.81" text-anchor="end" font-size="12" font-family="Liberation Sans, sans-serif" font-weight="bold">-12000</text>
<line x1="65.00" y1="193.26" x2="70.00" y2="193.26" stroke="#000" stroke-width="2"/>
<text x="63.00" y="196.76" text-anchor="end" font-size="12" font-family="Liberation Sans, sans-serif" font-weight="bold">-15000</text>
<line x1="65.00" y1="224.20" x2="70.00" y2="224.20" stroke="#000" stroke-width="2"/>
<text x="63.00" y="227.70" text-anchor="end" font-size="12" font-family="Liberation Sans, sans-serif" font-weight="bold">-18000</text>
<line x1="70.00" y1="224.20" x2="70.00" y2="228.70" stroke="#000" stroke-width="2"/>
<text x="70.00" y="240.50" text-anchor="middle" font-size="12" font-family="Liberation Sans, sans-serif" font-weight="bold">200</text>
<line x1="123.18" y1="224.20" x2="123.18" y2="228.70" stroke="#000" stroke-width="2"/>
<text x="123.18" y="240.50" text-anchor="middle" font-size="12" font-family="Liberation Sans, sans-serif" font-weight="bold">210</text>
<line x1="176.36" y1="224.20" x2="176.36" y2="228.70" stroke="#000" stroke-width="2"/>
<text x="176.36" y="240.50" text-anchor="middle" font-size="12" font-family="Liberation Sans, sans-serif" font-weight="bold">220</text>
<line x1="229.54" y1="224.20" x2="229.54" y2="228.70" stroke="#000" stroke-width="2"/>
<text x="229.54" y="240.50" text-anchor="middle" font-size="12" font-family="Liberation Sans, sans-serif" font-weight="bold">230</text>
<line x1="282.72" y1="224.20" x2="282.72" y2="228.70" stroke="#000" stroke-width="2"/>
<text x="282.72" y="240.50" text-anchor="middle" font-size="12" font-family="Liberation Sans, sans-serif" font-weight="bold">240</text>
<line x1="335.90" y1="224.20" x2="335.90" y2="228.70" stroke="#000" stroke-width="2"/>
<text x="335.90" y="240.50" text-anchor="middle" font-size="12" font-family="Liberation Sans, sans-serif" font-weight="bold">250</text>
<text x="202.85" y="261.60" text-anchor="middle" font-size="12.6" font-family="Liberation Sans, sans-serif" font-weight="bold">Wavelength (nm)</text>
<text transform="translate(20.40 124.90) rotate(-90)" text-anchor="middle" font-size="12.7" font-family="Liberation Sans, sans-serif" font-weight="bold">MRE(deg.cm<tspan font-size="7.6" dx="0.8" dy="-7">2</tspan><tspan dx="0.8" dy="7">.dmol</tspan><tspan font-size="7.6" dx="0.5" dy="-7">-1</tspan><tspan dx="0.6" dy="7">)</tspan></text>
<text x="307.50" y="30.70" font-size="17.5" font-family="Liberation Sans, sans-serif" font-weight="bold">A</text>
<line x1="221.80" y1="145.10" x2="244.00" y2="145.10" stroke="#000000" stroke-width="1.6"/>
<text x="246.30" y="148.30" font-size="9" font-family="Liberation Sans, sans-serif" font-weight="bold">a-LA0 pH 2.0</text>
<line x1="221.80" y1="156.75" x2="244.00" y2="156.75" stroke="#ff0000" stroke-width="1.6"/>
<text x="246.30" y="159.95" font-size="9" font-family="Liberation Sans, sans-serif" font-weight="bold">a-LA0.01mM SHMP</text>
<line x1="222.60" y1="168.40" x2="229.40" y2="168.40" stroke="#0000ff" stroke-width="1.6" stroke-linecap="round"/>
<line x1="233.50" y1="168.40" x2="234.40" y2="168.40" stroke="#0000ff" stroke-width="1.6" stroke-linecap="round"/>
<text x="246.30" y="171.60" font-size="9" font-family="Liberation Sans, sans-serif" font-weight="bold">a-LA0.015mM SHMP</text>
<line x1="221.80" y1="180.05" x2="244.00" y2="180.05" stroke="#ff00ff" stroke-width="1.6"/>
<text x="246.30" y="183.25" font-size="9" font-family="Liberation Sans, sans-serif" font-weight="bold">a-LA0.02mM SHMP</text>
<line x1="221.80" y1="191.70" x2="244.00" y2="191.70" stroke="#228b22" stroke-width="1.6"/>
<text x="246.30" y="194.90" font-size="9" font-family="Liberation Sans, sans-serif" font-weight="bold">a-LA0.07mM SHMP</text>
<line x1="222.10" y1="203.35" x2="227.90" y2="203.35" stroke="#000080" stroke-width="1.6" stroke-linecap="round"/>
<line x1="235.40" y1="203.35" x2="241.20" y2="203.35" stroke="#000080" stroke-width="1.6" stroke-linecap="round"/>
<text x="246.30" y="206.55" font-size="9" font-family="Liberation Sans, sans-serif" font-weight="bold">a-LA0.2mM SHMP</text>
<line x1="221.80" y1="215.00" x2="244.00" y2="215.00" stroke="#8000ff" stroke-width="1.6"/>
<text x="246.30" y="218.20" font-size="9" font-family="Liberation Sans, sans-serif" font-weight="bold">a-LA0.3mM SHMP</text>
<g clip-path="url(#cr)" fill="none" stroke-width="1.6">
<path d="M409.60 68.50 L409.70 69.28 L409.80 70.07 L409.90 70.85 L409.99 71.63 L410.08 72.42 L410.18 73.20 L410.26 73.99 L410.35 74.77 L410.44 75.55 L410.52 76.34 L410.61 77.12 L410.69 77.91 L410.77 78.70 L410.85 79.48 L410.93 80.27 L411.01 81.05 L411.08 81.84 L411.16 82.62 L411.24 83.41 L411.32 84.20 L411.39 84.98 L411.47 85.77 L411.55 86.55 L411.63 87.34 L411.70 88.13 L411.78 88.91 L411.86 89.70 L411.94 90.48 L412.02 91.27 L412.10 92.05 L412.19 92.84 L412.27 93.62 L412.36 94.41 L412.44 95.19 L412.53 95.98 L412.62 96.76 L412.72 97.54 L412.81 98.33 L412.91 99.11 L413.01 99.89 L413.11 100.68 L413.21 101.46 L413.32 102.24 L413.43 103.02 L413.54 103.80 L413.65 104.58 L413.77 105.36 L413.89 106.14 L414.01 106.92 L414.14 107.70 L414.27 108.48 L414.41 109.26 L414.55 110.03 L414.69 110.81 L414.83 111.59 L414.98 112.36 L415.14 113.14 L415.29 113.91 L415.45 114.69 L415.62 115.46 L415.78 116.23 L415.95 117.01 L416.12 117.78 L416.30 118.55 L416.47 119.32 L416.65 120.09 L416.84 120.86 L417.02 121.63 L417.21 122.40 L417.39 123.17 L417.58 123.94 L417.78 124.70 L417.97 125.47 L418.16 126.24 L418.36 127.00 L418.56 127.77 L418.76 128.53 L418.96 129.30 L419.16 130.06 L419.37 130.82 L419.57 131.58 L419.78 132.35 L420.00 133.11 L420.21 133.86 L420.43 134.62 L420.65 135.38 L420.87 136.14 L421.10 136.89 L421.33 137.64 L421.56 138.40 L421.80 139.15 L422.04 139.90 L422.28 140.64 L422.53 141.39 L422.78 142.14 L423.04 142.88 L423.30 143.62 L423.56 144.36 L423.83 145.10 L424.11 145.84 L424.38 146.57 L424.67 147.31 L424.96 148.04 L425.25 148.77 L425.55 149.50 L425.85 150.22 L426.16 150.94 L426.48 151.66 L426.80 152.38 L427.13 153.10 L427.46 153.81 L427.80 154.53 L428.14 155.24 L428.49 155.94 L428.85 156.65 L429.22 157.35 L429.59 158.05 L429.97 158.75 L430.35 159.44 L430.75 160.13 L431.15 160.82 L431.56 161.50 L431.97 162.18 L432.40 162.85 L432.83 163.52 L433.28 164.18 L433.73 164.84 L434.20 165.48 L434.67 166.12 L435.16 166.75 L435.66 167.37 L436.17 167.98 L436.69 168.59 L437.22 169.18 L437.76 169.76 L438.32 170.33 L438.89 170.88 L439.48 171.42 L440.08 171.95 L440.69 172.47 L441.32 172.97 L441.96 173.45 L442.62 173.92 L443.28 174.36 L443.96 174.78 L444.65 175.17 L445.34 175.54 L446.05 175.88 L446.77 176.18 L447.50 176.46 L448.23 176.70 L448.97 176.90 L449.72 177.07 L450.48 177.19 L451.24 177.28 L452.01 177.33 L452.78 177.34 L453.55 177.31 L454.32 177.25 L455.09 177.16 L455.87 177.03 L456.64 176.88 L457.40 176.69 L458.16 176.48 L458.92 176.25 L459.67 175.99 L460.41 175.71 L461.15 175.40 L461.88 175.08 L462.60 174.75 L463.32 174.40 L464.03 174.04 L464.74 173.67 L465.45 173.30 L466.16 172.92 L466.86 172.55 L467.57 172.17 L468.28 171.80 L468.99 171.44 L469.71 171.09 L470.43 170.75 L471.15 170.42 L471.88 170.11 L472.62 169.81 L473.35 169.52 L474.09 169.25 L474.84 168.98 L475.59 168.72 L476.34 168.48 L477.09 168.25 L477.85 168.02 L478.60 167.81 L479.37 167.60 L480.13 167.40 L480.89 167.21 L481.66 167.03 L482.43 166.86 L483.19 166.69 L483.96 166.53 L484.73 166.38 L485.50 166.23 L486.27 166.08 L487.04 165.94 L487.81 165.81 L488.59 165.68 L489.36 165.56 L490.13 165.44 L490.90 165.33 L491.68 165.22 L492.45 165.11 L493.23 165.01 L494.00 164.91 L494.78 164.81 L495.56 164.72 L496.34 164.63 L497.12 164.55 L497.90 164.46 L498.68 164.38 L499.46 164.31 L500.25 164.23 L501.03 164.16 L501.82 164.08 L502.61 164.01 L503.40 163.94 L504.19 163.88 L504.98 163.81 L505.77 163.74 L506.57 163.68 L507.36 163.61 L508.16 163.55 L508.96 163.48 L509.76 163.42 L510.55 163.35 L511.35 163.28 L512.15 163.21 L512.95 163.13 L513.75 163.06 L514.55 162.98 L515.34 162.89 L516.14 162.80 L516.93 162.71 L517.73 162.62 L518.52 162.52 L519.31 162.41 L520.10 162.30 L520.89 162.18 L521.67 162.05 L522.45 161.92 L523.23 161.78 L524.01 161.64 L524.78 161.48 L525.56 161.32 L526.32 161.15 L527.09 160.97 L527.85 160.78 L528.61 160.58 L529.36 160.37 L530.11 160.15 L530.86 159.92 L531.60 159.68 L532.33 159.43 L533.06 159.16 L533.79 158.88 L534.51 158.59 L535.23 158.29 L535.94 157.97 L536.64 157.64 L537.34 157.30 L538.03 156.94 L538.72 156.58 L539.41 156.20 L540.08 155.81 L540.75 155.41 L541.42 155.00 L542.08 154.58 L542.74 154.14 L543.39 153.70 L544.04 153.25 L544.68 152.79 L545.31 152.32 L545.94 151.84 L546.57 151.36 L547.19 150.86 L547.80 150.36 L548.41 149.85 L549.01 149.33 L549.61 148.81 L550.21 148.28 L550.79 147.74 L551.38 147.20 L551.96 146.65 L552.53 146.10 L553.10 145.54 L553.66 144.97 L554.22 144.40 L554.77 143.83 L555.32 143.26 L555.86 142.68 L556.40 142.09 L556.94 141.51 L557.47 140.92 L557.99 140.32 L558.51 139.73 L559.03 139.12 L559.54 138.52 L560.05 137.91 L560.55 137.30 L561.05 136.69 L561.55 136.08 L562.04 135.46 L562.53 134.84 L563.01 134.21 L563.49 133.59 L563.97 132.96 L564.45 132.33 L564.92 131.69 L565.39 131.06 L565.85 130.42 L566.31 129.78 L566.77 129.13 L567.23 128.49 L567.68 127.84 L568.14 127.20 L568.59 126.55 L569.03 125.89 L569.48 125.24 L569.92 124.58 L570.36 123.93 L570.80 123.27 L571.24 122.61 L571.67 121.95 L572.11 121.29 L572.54 120.63 L572.97 119.96 L573.40 119.30 L573.83 118.63 L574.25 117.96 L574.68 117.30 L575.10 116.63 L575.53 115.96 L575.95 115.29 L576.37 114.62 L576.79 113.95 L577.22 113.28 L577.64 112.61 L578.06 111.94 L578.48 111.27 L578.90 110.60 L579.32 109.93 L579.74 109.26 L580.16 108.59 L580.58 107.92 L581.00 107.25 L581.42 106.58 L581.84 105.91 L582.27 105.24 L582.69 104.57 L583.12 103.91 L583.54 103.24 L583.97 102.57 L584.39 101.91 L584.82 101.25 L585.25 100.58 L585.68 99.92 L586.12 99.26 L586.55 98.61 L586.99 97.95 L587.43 97.29 L587.87 96.64 L588.31 95.99 L588.75 95.34 L589.20 94.69 L589.65 94.04 L590.10 93.39 L590.55 92.75 L591.01 92.11 L591.47 91.47 L591.93 90.83 L592.39 90.20 L592.86 89.57 L593.33 88.94 L593.80 88.31 L594.28 87.69 L594.76 87.06 L595.24 86.44 L595.73 85.83 L596.22 85.21 L596.71 84.60 L597.21 84.00 L597.71 83.39 L598.22 82.79 L598.73 82.19 L599.24 81.60 L599.76 81.01 L600.28 80.42 L600.81 79.83 L601.34 79.25 L601.88 78.67 L602.42 78.10 L602.96 77.53 L603.51 76.96 L604.07 76.40 L604.63 75.84 L605.19 75.29 L605.76 74.74 L606.33 74.19 L606.90 73.65 L607.48 73.11 L608.06 72.58 L608.65 72.05 L609.24 71.52 L609.84 71.00 L610.44 70.48 L611.04 69.97 L611.65 69.46 L612.26 68.96 L612.87 68.46 L613.49 67.96 L614.11 67.47 L614.74 66.98 L615.37 66.50 L616.00 66.02 L616.64 65.55 L617.28 65.08 L617.92 64.62 L618.57 64.16 L619.22 63.71 L619.87 63.26 L620.53 62.82 L621.19 62.38 L621.85 61.95 L622.52 61.52 L623.19 61.10 L623.86 60.68 L624.54 60.27 L625.22 59.86 L625.90 59.46 L626.58 59.06 L627.27 58.67 L627.96 58.29 L628.65 57.91 L629.35 57.53 L630.05 57.16 L630.75 56.80 L631.46 56.44 L632.16 56.09 L632.87 55.74 L633.59 55.40 L634.30 55.07 L635.02 54.74 L635.74 54.42 L636.46 54.10 L637.18 53.79 L637.91 53.48 L638.64 53.18 L639.37 52.89 L640.11 52.60 L640.84 52.32 L641.58 52.04 L642.32 51.78 L643.06 51.51 L643.81 51.26 L644.55 51.00 L645.30 50.76 L646.05 50.52 L646.80 50.29 L647.56 50.06 L648.31 49.84 L649.07 49.63 L649.83 49.42 L650.59 49.22 L651.36 49.03 L652.12 48.84 L652.89 48.66 L653.66 48.48 L654.43 48.32 L655.20 48.15 L655.97 48.00 L656.74 47.85 L657.52 47.71 L658.30 47.57 L659.07 47.44 L659.85 47.32 L660.63 47.21 L661.42 47.10 L662.20 46.99 L662.98 46.90 L663.77 46.81 L664.56 46.73 L665.34 46.66 L666.13 46.59 L666.92 46.53 L667.71 46.47 L668.50 46.43 L669.30 46.39 L670.09 46.35 L670.88 46.33 L671.68 46.31 L672.47 46.30 L673.00 46.30" stroke="#000000" />
<path d="M409.61 68.80 L409.69 69.61 L409.78 70.42 L409.86 71.24 L409.95 72.05 L410.03 72.86 L410.11 73.67 L410.20 74.49 L410.28 75.30 L410.37 76.11 L410.45 76.92 L410.54 77.74 L410.62 78.55 L410.70 79.36 L410.79 80.18 L410.88 80.99 L410.96 81.80 L411.05 82.61 L411.13 83.43 L411.22 84.24 L411.31 85.05 L411.40 85.86 L411.49 86.68 L411.58 87.49 L411.67 88.30 L411.76 89.11 L411.85 89.93 L411.95 90.74 L412.04 91.55 L412.14 92.36 L412.23 93.17 L412.33 93.98 L412.43 94.80 L412.53 95.61 L412.63 96.42 L412.74 97.23 L412.84 98.04 L412.95 98.85 L413.05 99.66 L413.16 100.47 L413.27 101.28 L413.39 102.09 L413.50 102.90 L413.61 103.70 L413.73 104.51 L413.85 105.32 L413.97 106.13 L414.10 106.94 L414.22 107.74 L414.35 108.55 L414.48 109.36 L414.61 110.16 L414.74 110.97 L414.88 111.77 L415.02 112.58 L415.16 113.38 L415.30 114.19 L415.44 114.99 L415.59 115.79 L415.74 116.60 L415.89 117.40 L416.05 118.20 L416.21 119.00 L416.37 119.80 L416.53 120.60 L416.70 121.40 L416.87 122.20 L417.04 123.00 L417.22 123.80 L417.39 124.60 L417.58 125.40 L417.76 126.19 L417.95 126.99 L418.14 127.78 L418.33 128.58 L418.53 129.37 L418.73 130.17 L418.93 130.96 L419.14 131.75 L419.35 132.54 L419.57 133.33 L419.78 134.12 L420.01 134.91 L420.23 135.69 L420.46 136.48 L420.69 137.26 L420.92 138.05 L421.16 138.83 L421.41 139.61 L421.65 140.38 L421.90 141.16 L422.15 141.94 L422.41 142.71 L422.67 143.48 L422.93 144.25 L423.19 145.02 L423.46 145.79 L423.72 146.57 L423.99 147.34 L424.25 148.11 L424.52 148.88 L424.78 149.65 L425.04 150.42 L425.30 151.20 L425.56 151.98 L425.81 152.75 L426.06 153.53 L426.31 154.32 L426.55 155.10 L426.79 155.89 L427.03 156.68 L427.25 157.48 L427.48 158.27 L427.70 159.07 L427.92 159.87 L428.14 160.67 L428.36 161.47 L428.58 162.26 L428.81 163.06 L429.04 163.85 L429.28 164.64 L429.52 165.43 L429.78 166.21 L430.04 166.98 L430.31 167.75 L430.60 168.52 L430.90 169.27 L431.22 170.02 L431.55 170.75 L431.90 171.48 L432.27 172.20 L432.66 172.90 L433.07 173.60 L433.50 174.28 L433.95 174.95 L434.43 175.60 L434.93 176.24 L435.45 176.87 L435.98 177.49 L436.54 178.10 L437.11 178.70 L437.70 179.29 L438.30 179.86 L438.91 180.42 L439.54 180.97 L440.18 181.49 L440.84 182.00 L441.51 182.48 L442.19 182.94 L442.89 183.37 L443.60 183.77 L444.33 184.13 L445.06 184.46 L445.81 184.75 L446.58 185.00 L447.35 185.21 L448.13 185.39 L448.92 185.53 L449.72 185.64 L450.53 185.72 L451.34 185.76 L452.16 185.78 L452.98 185.77 L453.80 185.73 L454.62 185.66 L455.44 185.57 L456.26 185.46 L457.08 185.32 L457.89 185.17 L458.70 184.99 L459.50 184.80 L460.30 184.59 L461.09 184.36 L461.87 184.12 L462.64 183.87 L463.41 183.60 L464.18 183.32 L464.93 183.03 L465.69 182.73 L466.44 182.42 L467.19 182.10 L467.93 181.77 L468.68 181.44 L469.42 181.10 L470.16 180.76 L470.91 180.42 L471.65 180.07 L472.39 179.72 L473.13 179.38 L473.88 179.03 L474.62 178.68 L475.37 178.34 L476.12 178.00 L476.87 177.66 L477.62 177.33 L478.37 177.01 L479.12 176.69 L479.88 176.38 L480.64 176.08 L481.40 175.79 L482.17 175.52 L482.93 175.25 L483.71 175.00 L484.48 174.76 L485.26 174.54 L486.04 174.34 L486.83 174.15 L487.62 173.97 L488.41 173.81 L489.21 173.66 L490.01 173.52 L490.81 173.39 L491.62 173.27 L492.42 173.17 L493.23 173.07 L494.05 172.98 L494.86 172.90 L495.67 172.83 L496.49 172.76 L497.31 172.70 L498.13 172.64 L498.95 172.58 L499.77 172.53 L500.59 172.48 L501.41 172.44 L502.24 172.39 L503.06 172.34 L503.88 172.30 L504.71 172.25 L505.53 172.20 L506.35 172.15 L507.17 172.09 L507.99 172.03 L508.81 171.97 L509.63 171.91 L510.45 171.84 L511.26 171.77 L512.08 171.69 L512.90 171.60 L513.71 171.52 L514.52 171.42 L515.33 171.33 L516.14 171.22 L516.95 171.11 L517.76 171.00 L518.56 170.87 L519.36 170.74 L520.17 170.61 L520.97 170.46 L521.76 170.31 L522.56 170.15 L523.35 169.98 L524.14 169.80 L524.93 169.62 L525.72 169.42 L526.50 169.22 L527.29 169.01 L528.07 168.78 L528.84 168.55 L529.62 168.30 L530.39 168.05 L531.16 167.78 L531.92 167.51 L532.69 167.22 L533.45 166.92 L534.20 166.60 L534.96 166.28 L535.71 165.94 L536.45 165.59 L537.19 165.23 L537.93 164.85 L538.66 164.47 L539.39 164.07 L540.10 163.65 L540.81 163.23 L541.52 162.79 L542.21 162.34 L542.89 161.88 L543.57 161.41 L544.23 160.92 L544.88 160.42 L545.52 159.91 L546.15 159.39 L546.77 158.86 L547.38 158.32 L547.97 157.76 L548.56 157.20 L549.15 156.63 L549.72 156.06 L550.29 155.47 L550.85 154.88 L551.40 154.28 L551.96 153.68 L552.50 153.08 L553.04 152.47 L553.59 151.85 L554.12 151.24 L554.66 150.62 L555.20 150.00 L555.73 149.38 L556.26 148.76 L556.80 148.14 L557.33 147.51 L557.86 146.89 L558.38 146.26 L558.91 145.63 L559.43 145.00 L559.95 144.36 L560.46 143.72 L560.97 143.08 L561.48 142.44 L561.98 141.79 L562.47 141.14 L562.96 140.49 L563.45 139.83 L563.93 139.17 L564.40 138.51 L564.86 137.83 L565.32 137.16 L565.77 136.48 L566.21 135.79 L566.65 135.11 L567.08 134.41 L567.50 133.71 L567.92 133.01 L568.33 132.31 L568.73 131.60 L569.13 130.89 L569.53 130.17 L569.93 129.46 L570.32 128.74 L570.71 128.02 L571.09 127.30 L571.48 126.58 L571.86 125.85 L572.24 125.13 L572.63 124.41 L573.01 123.68 L573.40 122.96 L573.78 122.24 L574.17 121.52 L574.56 120.80 L574.95 120.08 L575.35 119.37 L575.75 118.65 L576.15 117.94 L576.56 117.23 L576.97 116.53 L577.38 115.82 L577.79 115.12 L578.21 114.41 L578.63 113.71 L579.05 113.01 L579.48 112.32 L579.91 111.62 L580.34 110.93 L580.77 110.23 L581.21 109.54 L581.65 108.85 L582.09 108.17 L582.53 107.48 L582.97 106.79 L583.42 106.11 L583.87 105.43 L584.32 104.74 L584.77 104.06 L585.22 103.38 L585.68 102.70 L586.14 102.03 L586.60 101.35 L587.06 100.67 L587.52 100.00 L587.98 99.32 L588.45 98.65 L588.91 97.98 L589.38 97.31 L589.85 96.64 L590.32 95.97 L590.79 95.30 L591.27 94.64 L591.74 93.97 L592.22 93.31 L592.70 92.64 L593.18 91.98 L593.67 91.33 L594.16 90.67 L594.64 90.01 L595.14 89.36 L595.63 88.71 L596.13 88.06 L596.62 87.41 L597.13 86.76 L597.63 86.12 L598.14 85.48 L598.65 84.84 L599.16 84.20 L599.67 83.57 L600.19 82.93 L600.71 82.30 L601.24 81.68 L601.77 81.05 L602.30 80.43 L602.83 79.81 L603.37 79.19 L603.91 78.58 L604.45 77.97 L605.00 77.36 L605.56 76.76 L606.11 76.16 L606.67 75.57 L607.24 74.98 L607.81 74.39 L608.38 73.81 L608.96 73.23 L609.54 72.66 L610.13 72.10 L610.73 71.54 L611.32 70.98 L611.93 70.44 L612.54 69.90 L613.15 69.36 L613.77 68.83 L614.40 68.31 L615.03 67.80 L615.67 67.29 L616.31 66.79 L616.96 66.30 L617.62 65.82 L618.28 65.35 L618.95 64.88 L619.62 64.42 L620.30 63.96 L620.99 63.51 L621.67 63.07 L622.37 62.64 L623.06 62.21 L623.76 61.79 L624.47 61.37 L625.18 60.96 L625.89 60.56 L626.61 60.16 L627.33 59.76 L628.05 59.37 L628.77 58.99 L629.50 58.61 L630.23 58.24 L630.97 57.87 L631.70 57.50 L632.44 57.14 L633.17 56.78 L633.91 56.43 L634.66 56.08 L635.40 55.73 L636.15 55.39 L636.89 55.06 L637.64 54.73 L638.39 54.40 L639.14 54.08 L639.90 53.77 L640.66 53.46 L641.41 53.15 L642.17 52.86 L642.94 52.56 L643.70 52.28 L644.46 52.00 L645.23 51.72 L646.00 51.45 L646.77 51.19 L647.54 50.94 L648.32 50.69 L649.10 50.45 L649.87 50.21 L650.66 49.98 L651.44 49.76 L652.22 49.55 L653.01 49.34 L653.80 49.14 L654.59 48.95 L655.38 48.77 L656.17 48.59 L656.97 48.42 L657.76 48.26 L658.56 48.11 L659.37 47.97 L660.17 47.83 L660.97 47.71 L661.78 47.59 L662.59 47.48 L663.40 47.38 L664.21 47.29 L665.03 47.21 L665.85 47.14 L666.67 47.07 L667.49 47.02 L668.31 46.98 L669.14 46.94 L669.96 46.92 L670.79 46.91 L671.62 46.90 L672.46 46.91 L673.01 46.92" stroke="#ff0000" />
<path d="M409.30 65.30 L409.43 66.10 L409.55 66.91 L409.67 67.71 L409.78 68.52 L409.89 69.32 L409.99 70.13 L410.09 70.94 L410.19 71.75 L410.28 72.56 L410.37 73.37 L410.46 74.18 L410.54 74.99 L410.62 75.80 L410.70 76.62 L410.78 77.43 L410.85 78.25 L410.92 79.06 L410.99 79.87 L411.06 80.69 L411.13 81.51 L411.19 82.32 L411.26 83.14 L411.32 83.95 L411.39 84.77 L411.45 85.59 L411.51 86.40 L411.58 87.22 L411.64 88.04 L411.71 88.85 L411.77 89.67 L411.84 90.48 L411.91 91.30 L411.97 92.12 L412.05 92.93 L412.12 93.75 L412.19 94.56 L412.27 95.38 L412.35 96.19 L412.43 97.00 L412.52 97.82 L412.61 98.63 L412.70 99.44 L412.79 100.25 L412.89 101.06 L413.00 101.87 L413.10 102.68 L413.21 103.49 L413.33 104.30 L413.45 105.10 L413.58 105.91 L413.71 106.71 L413.85 107.52 L413.99 108.32 L414.14 109.12 L414.29 109.92 L414.45 110.72 L414.62 111.52 L414.79 112.32 L414.97 113.11 L415.15 113.91 L415.34 114.70 L415.53 115.50 L415.73 116.29 L415.93 117.08 L416.14 117.87 L416.34 118.66 L416.55 119.45 L416.77 120.24 L416.98 121.03 L417.20 121.82 L417.42 122.60 L417.64 123.39 L417.86 124.18 L418.09 124.97 L418.31 125.75 L418.53 126.54 L418.76 127.32 L418.98 128.11 L419.21 128.89 L419.43 129.68 L419.66 130.46 L419.89 131.25 L420.12 132.03 L420.35 132.81 L420.59 133.59 L420.82 134.38 L421.06 135.16 L421.30 135.93 L421.55 136.71 L421.79 137.49 L422.04 138.27 L422.30 139.04 L422.56 139.82 L422.82 140.59 L423.08 141.36 L423.35 142.13 L423.62 142.90 L423.90 143.67 L424.17 144.44 L424.45 145.21 L424.72 145.98 L424.99 146.75 L425.26 147.52 L425.53 148.29 L425.79 149.07 L426.05 149.84 L426.30 150.62 L426.54 151.40 L426.78 152.19 L427.01 152.97 L427.24 153.76 L427.46 154.55 L427.68 155.34 L427.89 156.13 L428.11 156.92 L428.33 157.71 L428.54 158.49 L428.77 159.28 L428.99 160.07 L429.22 160.85 L429.45 161.63 L429.69 162.40 L429.94 163.18 L430.20 163.95 L430.47 164.71 L430.75 165.47 L431.04 166.22 L431.34 166.97 L431.66 167.71 L431.99 168.45 L432.34 169.18 L432.71 169.90 L433.09 170.61 L433.50 171.32 L433.92 172.01 L434.37 172.70 L434.84 173.38 L435.33 174.04 L435.83 174.69 L436.36 175.33 L436.91 175.95 L437.48 176.56 L438.07 177.15 L438.67 177.72 L439.30 178.27 L439.94 178.80 L440.59 179.31 L441.27 179.79 L441.96 180.25 L442.66 180.68 L443.38 181.09 L444.12 181.46 L444.86 181.80 L445.61 182.10 L446.38 182.37 L447.15 182.59 L447.93 182.77 L448.71 182.91 L449.50 183.00 L450.29 183.04 L451.09 183.02 L451.88 182.97 L452.67 182.86 L453.46 182.72 L454.24 182.53 L455.02 182.31 L455.79 182.06 L456.55 181.78 L457.30 181.47 L458.05 181.14 L458.79 180.79 L459.53 180.42 L460.27 180.04 L461.00 179.65 L461.73 179.26 L462.47 178.86 L463.20 178.46 L463.93 178.07 L464.67 177.68 L465.40 177.30 L466.15 176.93 L466.89 176.58 L467.64 176.23 L468.39 175.90 L469.14 175.58 L469.90 175.26 L470.66 174.96 L471.42 174.67 L472.19 174.39 L472.96 174.11 L473.73 173.85 L474.50 173.59 L475.28 173.35 L476.06 173.11 L476.84 172.88 L477.62 172.66 L478.40 172.45 L479.19 172.25 L479.98 172.05 L480.77 171.86 L481.56 171.68 L482.36 171.51 L483.15 171.34 L483.95 171.18 L484.75 171.03 L485.55 170.88 L486.35 170.74 L487.15 170.60 L487.96 170.48 L488.76 170.35 L489.57 170.23 L490.37 170.12 L491.18 170.01 L491.99 169.91 L492.80 169.81 L493.61 169.71 L494.42 169.62 L495.23 169.54 L496.04 169.45 L496.86 169.37 L497.67 169.30 L498.48 169.22 L499.30 169.15 L500.11 169.09 L500.92 169.02 L501.74 168.96 L502.55 168.90 L503.37 168.84 L504.18 168.78 L505.00 168.73 L505.82 168.67 L506.63 168.62 L507.45 168.57 L508.27 168.52 L509.08 168.46 L509.90 168.41 L510.72 168.36 L511.54 168.31 L512.36 168.26 L513.18 168.21 L514.00 168.16 L514.81 168.11 L515.63 168.05 L516.45 168.00 L517.27 167.94 L518.09 167.87 L518.91 167.80 L519.73 167.73 L520.54 167.64 L521.35 167.55 L522.16 167.44 L522.97 167.33 L523.78 167.20 L524.58 167.05 L525.38 166.89 L526.17 166.72 L526.96 166.52 L527.74 166.32 L528.53 166.09 L529.30 165.86 L530.08 165.60 L530.84 165.34 L531.61 165.06 L532.37 164.76 L533.12 164.46 L533.87 164.14 L534.62 163.80 L535.35 163.46 L536.09 163.10 L536.82 162.73 L537.54 162.35 L538.26 161.95 L538.97 161.55 L539.68 161.13 L540.38 160.71 L541.07 160.27 L541.76 159.83 L542.44 159.37 L543.12 158.91 L543.79 158.44 L544.45 157.96 L545.10 157.47 L545.75 156.97 L546.40 156.46 L547.03 155.95 L547.66 155.43 L548.29 154.90 L548.90 154.37 L549.51 153.82 L550.12 153.27 L550.71 152.72 L551.31 152.15 L551.89 151.58 L552.47 151.01 L553.05 150.43 L553.61 149.84 L554.17 149.24 L554.73 148.64 L555.28 148.04 L555.82 147.43 L556.36 146.81 L556.90 146.19 L557.42 145.56 L557.94 144.93 L558.46 144.29 L558.97 143.65 L559.48 143.01 L559.98 142.36 L560.47 141.71 L560.96 141.05 L561.45 140.39 L561.93 139.72 L562.40 139.05 L562.87 138.38 L563.34 137.71 L563.80 137.03 L564.25 136.35 L564.70 135.66 L565.15 134.98 L565.59 134.29 L566.02 133.60 L566.46 132.90 L566.88 132.21 L567.31 131.51 L567.73 130.81 L568.15 130.11 L568.56 129.41 L568.98 128.71 L569.39 128.01 L569.80 127.30 L570.21 126.60 L570.61 125.89 L571.02 125.19 L571.43 124.48 L571.83 123.78 L572.24 123.07 L572.65 122.36 L573.06 121.66 L573.47 120.96 L573.88 120.25 L574.29 119.55 L574.70 118.85 L575.12 118.15 L575.54 117.45 L575.96 116.75 L576.38 116.06 L576.81 115.36 L577.24 114.67 L577.66 113.97 L578.10 113.28 L578.53 112.59 L578.96 111.90 L579.40 111.21 L579.83 110.52 L580.27 109.83 L580.71 109.14 L581.15 108.46 L581.60 107.77 L582.04 107.09 L582.49 106.40 L582.94 105.72 L583.38 105.03 L583.83 104.35 L584.29 103.67 L584.74 102.99 L585.19 102.31 L585.65 101.63 L586.11 100.95 L586.56 100.27 L587.02 99.59 L587.48 98.92 L587.94 98.24 L588.41 97.56 L588.87 96.89 L589.34 96.22 L589.80 95.54 L590.27 94.87 L590.74 94.20 L591.21 93.53 L591.69 92.86 L592.16 92.20 L592.64 91.53 L593.12 90.87 L593.60 90.21 L594.09 89.55 L594.57 88.89 L595.06 88.23 L595.55 87.58 L596.05 86.93 L596.54 86.28 L597.04 85.63 L597.55 84.99 L598.05 84.34 L598.56 83.71 L599.07 83.07 L599.58 82.43 L600.10 81.80 L600.62 81.17 L601.14 80.55 L601.67 79.93 L602.20 79.31 L602.74 78.69 L603.27 78.08 L603.82 77.47 L604.36 76.86 L604.91 76.26 L605.46 75.66 L606.02 75.07 L606.58 74.48 L607.15 73.89 L607.72 73.31 L608.29 72.73 L608.87 72.15 L609.45 71.58 L610.04 71.02 L610.63 70.45 L611.23 69.90 L611.83 69.35 L612.44 68.81 L613.05 68.27 L613.67 67.74 L614.29 67.21 L614.93 66.70 L615.56 66.19 L616.20 65.69 L616.85 65.19 L617.51 64.71 L618.17 64.23 L618.84 63.76 L619.51 63.30 L620.18 62.84 L620.87 62.40 L621.55 61.95 L622.25 61.52 L622.94 61.09 L623.64 60.67 L624.35 60.26 L625.06 59.85 L625.77 59.45 L626.49 59.05 L627.21 58.66 L627.93 58.28 L628.66 57.90 L629.39 57.53 L630.12 57.16 L630.85 56.79 L631.59 56.43 L632.33 56.08 L633.07 55.73 L633.81 55.39 L634.56 55.05 L635.31 54.71 L636.05 54.38 L636.80 54.06 L637.56 53.74 L638.31 53.42 L639.07 53.11 L639.83 52.81 L640.59 52.51 L641.35 52.22 L642.11 51.93 L642.88 51.65 L643.65 51.38 L644.42 51.11 L645.19 50.85 L645.96 50.59 L646.74 50.34 L647.52 50.10 L648.29 49.87 L649.08 49.64 L649.86 49.41 L650.64 49.20 L651.43 48.99 L652.22 48.79 L653.01 48.59 L653.80 48.40 L654.59 48.22 L655.38 48.05 L656.18 47.88 L656.98 47.73 L657.78 47.58 L658.58 47.43 L659.38 47.30 L660.19 47.17 L661.00 47.06 L661.80 46.95 L662.61 46.84 L663.43 46.75 L664.24 46.67 L665.05 46.59 L665.87 46.52 L666.69 46.46 L667.51 46.41 L668.33 46.37 L669.15 46.34 L669.97 46.32 L670.80 46.31 L671.63 46.30 L672.46 46.31 L673.01 46.32" stroke="#0000ff" stroke-dasharray="6.8 5.2 0.2 5.2" stroke-linecap="round" stroke-dashoffset="15.81"/>
<path d="M409.60 68.81 L409.69 69.61 L409.79 70.42 L409.89 71.22 L409.98 72.03 L410.07 72.84 L410.16 73.65 L410.26 74.45 L410.35 75.26 L410.44 76.07 L410.52 76.88 L410.61 77.70 L410.70 78.51 L410.79 79.32 L410.87 80.13 L410.96 80.94 L411.05 81.76 L411.13 82.57 L411.22 83.39 L411.30 84.20 L411.39 85.01 L411.48 85.83 L411.56 86.64 L411.65 87.46 L411.74 88.27 L411.82 89.09 L411.91 89.90 L412.00 90.72 L412.09 91.54 L412.18 92.35 L412.27 93.17 L412.36 93.98 L412.46 94.80 L412.55 95.61 L412.65 96.43 L412.74 97.24 L412.84 98.06 L412.94 98.87 L413.04 99.69 L413.15 100.50 L413.25 101.32 L413.36 102.13 L413.46 102.94 L413.57 103.75 L413.69 104.57 L413.80 105.38 L413.92 106.19 L414.03 107.00 L414.15 107.81 L414.28 108.62 L414.40 109.43 L414.53 110.24 L414.66 111.05 L414.79 111.85 L414.93 112.66 L415.07 113.47 L415.21 114.27 L415.36 115.08 L415.51 115.88 L415.66 116.68 L415.81 117.49 L415.97 118.29 L416.13 119.09 L416.30 119.89 L416.46 120.68 L416.64 121.48 L416.81 122.28 L416.99 123.07 L417.17 123.87 L417.36 124.66 L417.55 125.45 L417.75 126.24 L417.95 127.03 L418.15 127.82 L418.36 128.61 L418.57 129.39 L418.79 130.18 L419.01 130.96 L419.23 131.75 L419.45 132.53 L419.68 133.31 L419.91 134.09 L420.14 134.88 L420.37 135.66 L420.61 136.44 L420.85 137.22 L421.09 138.00 L421.33 138.78 L421.57 139.56 L421.82 140.34 L422.06 141.12 L422.31 141.90 L422.55 142.68 L422.80 143.46 L423.05 144.24 L423.30 145.02 L423.54 145.80 L423.79 146.58 L424.04 147.36 L424.28 148.15 L424.53 148.93 L424.78 149.72 L425.02 150.50 L425.26 151.29 L425.50 152.07 L425.74 152.86 L425.98 153.65 L426.22 154.44 L426.45 155.23 L426.68 156.03 L426.91 156.82 L427.14 157.62 L427.37 158.41 L427.59 159.21 L427.82 160.00 L428.05 160.80 L428.28 161.59 L428.51 162.38 L428.75 163.17 L429.00 163.96 L429.25 164.74 L429.51 165.52 L429.78 166.29 L430.06 167.06 L430.34 167.82 L430.65 168.57 L430.96 169.32 L431.29 170.06 L431.63 170.79 L431.99 171.51 L432.36 172.22 L432.75 172.92 L433.17 173.61 L433.60 174.30 L434.05 174.96 L434.52 175.62 L435.01 176.27 L435.52 176.91 L436.05 177.53 L436.59 178.14 L437.16 178.75 L437.74 179.34 L438.34 179.92 L438.95 180.49 L439.58 181.04 L440.23 181.57 L440.89 182.07 L441.56 182.56 L442.25 183.01 L442.95 183.44 L443.67 183.83 L444.40 184.19 L445.14 184.51 L445.90 184.79 L446.66 185.03 L447.44 185.23 L448.22 185.40 L449.01 185.54 L449.81 185.64 L450.62 185.71 L451.43 185.75 L452.24 185.76 L453.06 185.74 L453.88 185.70 L454.70 185.63 L455.52 185.53 L456.34 185.42 L457.15 185.28 L457.97 185.12 L458.77 184.95 L459.58 184.75 L460.37 184.54 L461.16 184.32 L461.95 184.08 L462.73 183.84 L463.50 183.57 L464.27 183.30 L465.03 183.02 L465.79 182.73 L466.55 182.43 L467.31 182.12 L468.06 181.81 L468.81 181.50 L469.57 181.17 L470.32 180.85 L471.07 180.52 L471.83 180.20 L472.58 179.87 L473.34 179.55 L474.10 179.22 L474.85 178.90 L475.61 178.59 L476.38 178.28 L477.14 177.99 L477.91 177.70 L478.68 177.42 L479.45 177.15 L480.22 176.89 L481.00 176.65 L481.78 176.42 L482.57 176.21 L483.36 176.02 L484.15 175.84 L484.95 175.68 L485.75 175.55 L486.55 175.43 L487.36 175.34 L488.17 175.25 L488.99 175.18 L489.80 175.12 L490.62 175.07 L491.44 175.02 L492.26 174.98 L493.08 174.94 L493.90 174.89 L494.72 174.85 L495.54 174.80 L496.35 174.74 L497.17 174.68 L497.98 174.62 L498.80 174.55 L499.61 174.48 L500.42 174.40 L501.24 174.32 L502.05 174.24 L502.86 174.15 L503.67 174.07 L504.48 173.98 L505.30 173.89 L506.11 173.80 L506.92 173.71 L507.74 173.61 L508.55 173.52 L509.36 173.42 L510.18 173.32 L510.99 173.22 L511.80 173.11 L512.62 173.01 L513.43 172.89 L514.24 172.78 L515.05 172.66 L515.86 172.53 L516.67 172.40 L517.48 172.27 L518.28 172.13 L519.09 171.98 L519.89 171.83 L520.69 171.67 L521.49 171.50 L522.29 171.33 L523.09 171.15 L523.88 170.96 L524.67 170.76 L525.46 170.56 L526.25 170.34 L527.03 170.12 L527.81 169.89 L528.59 169.65 L529.37 169.40 L530.14 169.14 L530.91 168.86 L531.67 168.58 L532.43 168.29 L533.19 167.98 L533.95 167.67 L534.70 167.34 L535.45 167.00 L536.19 166.64 L536.93 166.28 L537.66 165.90 L538.38 165.51 L539.10 165.11 L539.82 164.69 L540.52 164.26 L541.22 163.82 L541.90 163.36 L542.58 162.90 L543.24 162.42 L543.90 161.92 L544.54 161.42 L545.17 160.90 L545.79 160.36 L546.40 159.82 L547.00 159.26 L547.58 158.70 L548.16 158.12 L548.73 157.54 L549.29 156.94 L549.84 156.34 L550.38 155.73 L550.93 155.12 L551.46 154.50 L551.99 153.88 L552.52 153.25 L553.05 152.62 L553.57 151.99 L554.09 151.35 L554.61 150.72 L555.14 150.09 L555.66 149.45 L556.18 148.82 L556.70 148.19 L557.23 147.55 L557.75 146.92 L558.27 146.29 L558.79 145.65 L559.31 145.02 L559.82 144.38 L560.33 143.74 L560.84 143.10 L561.35 142.46 L561.85 141.81 L562.35 141.16 L562.84 140.51 L563.33 139.86 L563.81 139.20 L564.29 138.54 L564.76 137.87 L565.22 137.20 L565.68 136.53 L566.13 135.85 L566.57 135.17 L567.00 134.48 L567.43 133.79 L567.86 133.09 L568.28 132.39 L568.69 131.69 L569.10 130.98 L569.51 130.27 L569.91 129.56 L570.31 128.85 L570.70 128.14 L571.10 127.42 L571.49 126.70 L571.88 125.98 L572.27 125.26 L572.65 124.54 L573.04 123.82 L573.43 123.10 L573.82 122.38 L574.21 121.66 L574.60 120.94 L574.99 120.22 L575.39 119.50 L575.78 118.79 L576.18 118.07 L576.58 117.36 L576.99 116.65 L577.39 115.94 L577.80 115.23 L578.21 114.52 L578.63 113.81 L579.04 113.11 L579.46 112.40 L579.88 111.70 L580.31 111.00 L580.73 110.30 L581.16 109.60 L581.59 108.90 L582.02 108.21 L582.45 107.51 L582.89 106.82 L583.33 106.13 L583.77 105.44 L584.22 104.75 L584.66 104.07 L585.11 103.38 L585.56 102.70 L586.01 102.02 L586.47 101.34 L586.93 100.66 L587.39 99.98 L587.85 99.31 L588.32 98.64 L588.78 97.96 L589.25 97.29 L589.73 96.63 L590.20 95.96 L590.68 95.30 L591.16 94.63 L591.64 93.97 L592.12 93.31 L592.61 92.65 L593.10 92.00 L593.59 91.34 L594.09 90.69 L594.58 90.04 L595.08 89.39 L595.58 88.75 L596.08 88.10 L596.59 87.46 L597.10 86.82 L597.61 86.18 L598.12 85.54 L598.64 84.91 L599.16 84.27 L599.68 83.64 L600.20 83.01 L600.73 82.38 L601.25 81.76 L601.78 81.14 L602.32 80.51 L602.85 79.90 L603.39 79.28 L603.93 78.66 L604.47 78.05 L605.02 77.44 L605.57 76.84 L606.12 76.23 L606.68 75.63 L607.24 75.04 L607.81 74.45 L608.37 73.86 L608.95 73.28 L609.53 72.71 L610.11 72.14 L610.70 71.57 L611.29 71.01 L611.89 70.46 L612.49 69.92 L613.10 69.38 L613.72 68.84 L614.34 68.32 L614.97 67.80 L615.61 67.29 L616.25 66.79 L616.90 66.30 L617.55 65.82 L618.21 65.34 L618.88 64.87 L619.56 64.41 L620.24 63.95 L620.92 63.51 L621.61 63.07 L622.31 62.63 L623.01 62.21 L623.71 61.79 L624.42 61.37 L625.13 60.96 L625.85 60.56 L626.57 60.16 L627.29 59.77 L628.01 59.38 L628.74 59.00 L629.47 58.62 L630.21 58.25 L630.94 57.88 L631.68 57.52 L632.42 57.16 L633.16 56.80 L633.90 56.45 L634.65 56.10 L635.39 55.76 L636.14 55.42 L636.89 55.08 L637.63 54.75 L638.39 54.43 L639.14 54.10 L639.89 53.79 L640.65 53.48 L641.41 53.17 L642.17 52.88 L642.93 52.58 L643.69 52.29 L644.46 52.01 L645.22 51.74 L645.99 51.47 L646.76 51.20 L647.53 50.95 L648.31 50.70 L649.08 50.45 L649.86 50.22 L650.64 49.99 L651.42 49.76 L652.21 49.55 L652.99 49.34 L653.78 49.14 L654.57 48.95 L655.36 48.76 L656.15 48.58 L656.95 48.41 L657.74 48.25 L658.54 48.10 L659.34 47.96 L660.15 47.82 L660.95 47.69 L661.76 47.58 L662.57 47.47 L663.38 47.37 L664.19 47.28 L665.01 47.20 L665.83 47.12 L666.65 47.06 L667.47 47.01 L668.30 46.97 L669.12 46.94 L669.95 46.91 L670.79 46.90 L671.62 46.90 L672.46 46.91 L673.01 46.92" stroke="#ff00ff" />
<path d="M409.63 69.50 L409.68 70.32 L409.73 71.14 L409.79 71.97 L409.85 72.79 L409.90 73.61 L409.96 74.43 L410.02 75.26 L410.09 76.08 L410.15 76.90 L410.22 77.72 L410.28 78.55 L410.35 79.37 L410.42 80.19 L410.49 81.01 L410.57 81.84 L410.64 82.66 L410.72 83.48 L410.79 84.30 L410.87 85.12 L410.95 85.95 L411.04 86.77 L411.12 87.59 L411.21 88.41 L411.29 89.23 L411.38 90.05 L411.47 90.87 L411.56 91.69 L411.66 92.52 L411.75 93.34 L411.85 94.16 L411.95 94.98 L412.05 95.80 L412.15 96.62 L412.26 97.43 L412.36 98.25 L412.47 99.07 L412.58 99.89 L412.69 100.71 L412.80 101.53 L412.92 102.34 L413.03 103.16 L413.15 103.98 L413.27 104.80 L413.40 105.61 L413.52 106.43 L413.64 107.24 L413.77 108.06 L413.90 108.87 L414.03 109.69 L414.17 110.50 L414.30 111.32 L414.44 112.13 L414.58 112.94 L414.72 113.76 L414.86 114.57 L415.01 115.38 L415.15 116.19 L415.30 117.00 L415.46 117.81 L415.61 118.62 L415.76 119.43 L415.92 120.24 L416.08 121.05 L416.24 121.86 L416.40 122.67 L416.57 123.47 L416.74 124.28 L416.91 125.09 L417.08 125.89 L417.25 126.70 L417.43 127.50 L417.61 128.30 L417.79 129.11 L417.97 129.91 L418.15 130.71 L418.34 131.51 L418.53 132.32 L418.72 133.12 L418.91 133.92 L419.10 134.72 L419.30 135.52 L419.50 136.32 L419.70 137.12 L419.90 137.92 L420.10 138.71 L420.31 139.51 L420.52 140.31 L420.72 141.11 L420.93 141.91 L421.15 142.70 L421.36 143.50 L421.58 144.30 L421.79 145.09 L422.01 145.89 L422.23 146.69 L422.46 147.48 L422.68 148.28 L422.90 149.07 L423.13 149.87 L423.36 150.66 L423.59 151.46 L423.82 152.26 L424.05 153.05 L424.29 153.85 L424.52 154.64 L424.76 155.44 L425.00 156.23 L425.24 157.03 L425.48 157.83 L425.72 158.62 L425.96 159.42 L426.21 160.21 L426.45 161.01 L426.70 161.81 L426.95 162.60 L427.21 163.39 L427.47 164.19 L427.73 164.97 L428.00 165.76 L428.27 166.54 L428.55 167.32 L428.84 168.10 L429.14 168.87 L429.45 169.64 L429.76 170.40 L430.09 171.15 L430.42 171.90 L430.77 172.64 L431.13 173.38 L431.50 174.10 L431.89 174.82 L432.28 175.53 L432.70 176.23 L433.13 176.92 L433.57 177.60 L434.04 178.27 L434.52 178.93 L435.01 179.58 L435.53 180.21 L436.06 180.84 L436.62 181.45 L437.20 182.04 L437.79 182.63 L438.41 183.20 L439.05 183.75 L439.71 184.28 L440.38 184.78 L441.07 185.27 L441.78 185.73 L442.50 186.16 L443.23 186.55 L443.98 186.92 L444.73 187.25 L445.50 187.55 L446.28 187.80 L447.06 188.02 L447.86 188.21 L448.66 188.36 L449.47 188.48 L450.28 188.57 L451.09 188.62 L451.91 188.65 L452.73 188.65 L453.56 188.62 L454.38 188.57 L455.20 188.49 L456.03 188.39 L456.85 188.26 L457.66 188.12 L458.48 187.95 L459.29 187.77 L460.09 187.56 L460.89 187.34 L461.68 187.10 L462.46 186.85 L463.24 186.59 L464.02 186.31 L464.79 186.02 L465.55 185.71 L466.32 185.40 L467.08 185.07 L467.83 184.74 L468.58 184.39 L469.33 184.04 L470.08 183.69 L470.83 183.32 L471.57 182.96 L472.31 182.59 L473.06 182.21 L473.80 181.84 L474.54 181.47 L475.29 181.10 L476.03 180.73 L476.77 180.37 L477.52 180.01 L478.27 179.66 L479.02 179.32 L479.78 178.99 L480.54 178.67 L481.30 178.37 L482.06 178.07 L482.84 177.80 L483.61 177.53 L484.39 177.29 L485.18 177.07 L485.97 176.86 L486.77 176.67 L487.58 176.50 L488.38 176.35 L489.20 176.21 L490.01 176.07 L490.83 175.95 L491.65 175.84 L492.47 175.73 L493.29 175.63 L494.11 175.53 L494.94 175.44 L495.76 175.34 L496.58 175.24 L497.40 175.14 L498.22 175.04 L499.03 174.94 L499.85 174.84 L500.67 174.75 L501.49 174.65 L502.31 174.55 L503.12 174.45 L503.94 174.34 L504.76 174.24 L505.58 174.14 L506.40 174.04 L507.22 173.94 L508.04 173.84 L508.86 173.73 L509.68 173.63 L510.50 173.52 L511.32 173.41 L512.14 173.29 L512.96 173.18 L513.78 173.06 L514.60 172.93 L515.42 172.81 L516.23 172.68 L517.05 172.54 L517.86 172.40 L518.67 172.25 L519.48 172.10 L520.29 171.94 L521.10 171.77 L521.91 171.60 L522.71 171.42 L523.51 171.23 L524.31 171.04 L525.11 170.84 L525.90 170.63 L526.70 170.41 L527.49 170.18 L528.27 169.94 L529.06 169.69 L529.84 169.43 L530.61 169.16 L531.39 168.89 L532.16 168.60 L532.93 168.29 L533.69 167.98 L534.45 167.65 L535.20 167.32 L535.96 166.97 L536.70 166.60 L537.44 166.23 L538.18 165.84 L538.91 165.44 L539.63 165.02 L540.35 164.60 L541.06 164.16 L541.75 163.71 L542.44 163.25 L543.12 162.77 L543.79 162.28 L544.45 161.78 L545.10 161.27 L545.74 160.74 L546.36 160.21 L546.98 159.66 L547.58 159.10 L548.18 158.54 L548.77 157.96 L549.35 157.38 L549.92 156.78 L550.49 156.19 L551.05 155.58 L551.61 154.97 L552.16 154.36 L552.71 153.74 L553.26 153.12 L553.80 152.50 L554.34 151.87 L554.88 151.24 L555.42 150.62 L555.96 149.99 L556.50 149.36 L557.04 148.73 L557.58 148.10 L558.11 147.47 L558.64 146.83 L559.17 146.20 L559.69 145.56 L560.22 144.91 L560.73 144.27 L561.25 143.62 L561.75 142.97 L562.26 142.32 L562.75 141.66 L563.24 141.00 L563.73 140.33 L564.20 139.66 L564.67 138.98 L565.13 138.30 L565.59 137.61 L566.03 136.92 L566.47 136.22 L566.90 135.52 L567.32 134.81 L567.73 134.10 L568.14 133.38 L568.54 132.66 L568.94 131.94 L569.33 131.21 L569.72 130.48 L570.11 129.75 L570.49 129.02 L570.87 128.28 L571.25 127.55 L571.62 126.81 L572.00 126.07 L572.38 125.33 L572.75 124.60 L573.13 123.86 L573.51 123.12 L573.89 122.39 L574.27 121.65 L574.65 120.92 L575.04 120.19 L575.43 119.46 L575.83 118.74 L576.23 118.01 L576.63 117.30 L577.04 116.58 L577.45 115.86 L577.87 115.15 L578.29 114.44 L578.71 113.73 L579.14 113.03 L579.57 112.32 L580.00 111.62 L580.44 110.92 L580.88 110.22 L581.32 109.53 L581.77 108.84 L582.22 108.14 L582.67 107.45 L583.12 106.77 L583.58 106.08 L584.04 105.40 L584.50 104.71 L584.96 104.03 L585.43 103.35 L585.90 102.68 L586.37 102.00 L586.85 101.32 L587.32 100.65 L587.80 99.98 L588.28 99.31 L588.76 98.64 L589.25 97.97 L589.73 97.30 L590.22 96.63 L590.71 95.97 L591.20 95.30 L591.69 94.64 L592.18 93.98 L592.68 93.32 L593.17 92.66 L593.67 92.00 L594.17 91.34 L594.67 90.68 L595.17 90.02 L595.67 89.36 L596.17 88.71 L596.67 88.05 L597.17 87.39 L597.68 86.74 L598.18 86.08 L598.68 85.43 L599.19 84.77 L599.69 84.12 L600.20 83.47 L600.70 82.81 L601.20 82.16 L601.71 81.50 L602.21 80.85 L602.72 80.19 L603.22 79.54 L603.72 78.89 L604.23 78.23 L604.74 77.58 L605.25 76.94 L605.77 76.29 L606.29 75.66 L606.82 75.02 L607.35 74.40 L607.90 73.78 L608.45 73.18 L609.02 72.58 L609.60 71.99 L610.19 71.42 L610.78 70.85 L611.39 70.29 L612.01 69.74 L612.63 69.20 L613.26 68.67 L613.90 68.14 L614.54 67.62 L615.20 67.11 L615.85 66.61 L616.51 66.12 L617.18 65.63 L617.85 65.15 L618.52 64.67 L619.20 64.20 L619.89 63.74 L620.57 63.29 L621.26 62.84 L621.96 62.39 L622.66 61.95 L623.36 61.52 L624.07 61.09 L624.77 60.67 L625.49 60.25 L626.20 59.84 L626.92 59.43 L627.64 59.03 L628.36 58.63 L629.09 58.24 L629.82 57.85 L630.55 57.46 L631.28 57.08 L632.02 56.71 L632.76 56.33 L633.50 55.96 L634.24 55.60 L634.98 55.24 L635.73 54.88 L636.48 54.53 L637.23 54.19 L637.98 53.85 L638.74 53.52 L639.49 53.19 L640.25 52.87 L641.02 52.55 L641.78 52.25 L642.55 51.95 L643.32 51.65 L644.09 51.37 L644.87 51.09 L645.65 50.83 L646.43 50.57 L647.22 50.32 L648.00 50.07 L648.80 49.84 L649.59 49.62 L650.39 49.41 L651.18 49.20 L651.99 49.01 L652.79 48.82 L653.60 48.64 L654.40 48.47 L655.21 48.31 L656.03 48.15 L656.84 48.01 L657.65 47.87 L658.47 47.74 L659.29 47.61 L660.11 47.50 L660.93 47.39 L661.75 47.29 L662.57 47.19 L663.40 47.10 L664.22 47.02 L665.04 46.94 L665.87 46.87 L666.69 46.81 L667.51 46.75 L668.34 46.70 L669.16 46.65 L669.99 46.61 L670.81 46.57 L671.63 46.54 L672.45 46.52 L673.00 46.50" stroke="#228b22" />
</g>
<rect x="408.20" y="11.20" width="265.70" height="215.50" fill="none" stroke="#000" stroke-width="2"/>
<line x1="403.20" y1="11.20" x2="408.20" y2="11.20" stroke="#000" stroke-width="2"/>
<text x="401.80" y="14.70" text-anchor="end" font-size="12" font-family="Liberation Sans, sans-serif" font-weight="bold">3000</text>
<line x1="403.20" y1="41.99" x2="408.20" y2="41.99" stroke="#000" stroke-width="2"/>
<text x="401.80" y="45.49" text-anchor="end" font-size="12" font-family="Liberation Sans, sans-serif" font-weight="bold">0</text>
<line x1="403.20" y1="72.77" x2="408.20" y2="72.77" stroke="#000" stroke-width="2"/>
<text x="401.80" y="76.27" text-anchor="end" font-size="12" font-family="Liberation Sans, sans-serif" font-weight="bold">-3000</text>
<line x1="403.20" y1="103.56" x2="408.20" y2="103.56" stroke="#000" stroke-width="2"/>
<text x="401.80" y="107.06" text-anchor="end" font-size="12" font-family="Liberation Sans, sans-serif" font-weight="bold">-6000</text>
<line x1="403.20" y1="134.34" x2="408.20" y2="134.34" stroke="#000" stroke-width="2"/>
<text x="401.80" y="137.84" text-anchor="end" font-size="12" font-family="Liberation Sans, sans-serif" font-weight="bold">-9000</text>
<line x1="403.20" y1="165.13" x2="408.20" y2="165.13" stroke="#000" stroke-width="2"/>
<text x="401.80" y="168.63" text-anchor="end" font-size="12" font-family="Liberation Sans, sans-serif" font-weight="bold">-12000</text>
<line x1="403.20" y1="195.91" x2="408.20" y2="195.91" stroke="#000" stroke-width="2"/>
<text x="401.80" y="199.41" text-anchor="end" font-size="12" font-family="Liberation Sans, sans-serif" font-weight="bold">-15000</text>
<line x1="403.20" y1="226.70" x2="408.20" y2="226.70" stroke="#000" stroke-width="2"/>
<text x="401.80" y="230.20" text-anchor="end" font-size="12" font-family="Liberation Sans, sans-serif" font-weight="bold">-18000</text>
<line x1="408.20" y1="226.70" x2="408.20" y2="231.20" stroke="#000" stroke-width="2"/>
<text x="408.20" y="243.00" text-anchor="middle" font-size="12" font-family="Liberation Sans, sans-serif" font-weight="bold">200</text>
<line x1="461.34" y1="226.70" x2="461.34" y2="231.20" stroke="#000" stroke-width="2"/>
<text x="461.34" y="243.00" text-anchor="middle" font-size="12" font-family="Liberation Sans, sans-serif" font-weight="bold">210</text>
<line x1="514.48" y1="226.70" x2="514.48" y2="231.20" stroke="#000" stroke-width="2"/>
<text x="514.48" y="243.00" text-anchor="middle" font-size="12" font-family="Liberation Sans, sans-serif" font-weight="bold">220</text>
<line x1="567.62" y1="226.70" x2="567.62" y2="231.20" stroke="#000" stroke-width="2"/>
<text x="567.62" y="243.00" text-anchor="middle" font-size="12" font-family="Liberation Sans, sans-serif" font-weight="bold">230</text>
<line x1="620.76" y1="226.70" x2="620.76" y2="231.20" stroke="#000" stroke-width="2"/>
<text x="620.76" y="243.00" text-anchor="middle" font-size="12" font-family="Liberation Sans, sans-serif" font-weight="bold">240</text>
<line x1="673.90" y1="226.70" x2="673.90" y2="231.20" stroke="#000" stroke-width="2"/>
<text x="673.90" y="243.00" text-anchor="middle" font-size="12" font-family="Liberation Sans, sans-serif" font-weight="bold">250</text>
<text x="540.90" y="264.20" text-anchor="middle" font-size="12.6" font-family="Liberation Sans, sans-serif" font-weight="bold">Wavelength (nm)</text>
<text transform="translate(359.40 129.00) rotate(-90)" text-anchor="middle" font-size="12.7" font-family="Liberation Sans, sans-serif" font-weight="bold">MRE(deg.cm<tspan font-size="7.6" dx="0.8" dy="-7">2</tspan><tspan dx="0.8" dy="7">.dmol</tspan><tspan font-size="7.6" dx="0.5" dy="-7">-1</tspan><tspan dx="0.6" dy="7">)</tspan></text>
<text x="655.50" y="30.80" font-size="17.5" font-family="Liberation Sans, sans-serif" font-weight="bold">B</text>
<line x1="548.80" y1="172.30" x2="569.20" y2="172.30" stroke="#000000" stroke-width="1.6"/>
<text x="571.50" y="175.00" font-size="8.5" font-family="Liberation Sans, sans-serif" font-weight="bold">a-LA+0mM SHMP pH 7.4</text>
<line x1="548.80" y1="183.40" x2="569.20" y2="183.40" stroke="#ff0000" stroke-width="1.6"/>
<text x="571.50" y="186.10" font-size="8.5" font-family="Liberation Sans, sans-serif" font-weight="bold">a-LA+0.01mM SHMP</text>
<line x1="549.60" y1="194.50" x2="556.40" y2="194.50" stroke="#0000ff" stroke-width="1.6" stroke-linecap="round"/>
<line x1="560.50" y1="194.50" x2="561.40" y2="194.50" stroke="#0000ff" stroke-width="1.6" stroke-linecap="round"/>
<text x="571.50" y="197.20" font-size="8.5" font-family="Liberation Sans, sans-serif" font-weight="bold">a-LA+0.015mM SHMP</text>
<line x1="548.80" y1="205.60" x2="569.20" y2="205.60" stroke="#ff00ff" stroke-width="1.6"/>
<text x="571.50" y="208.30" font-size="8.5" font-family="Liberation Sans, sans-serif" font-weight="bold">a-LA+0.2mM SHMP</text>
<line x1="548.80" y1="216.70" x2="569.20" y2="216.70" stroke="#228b22" stroke-width="1.6"/>
<text x="571.50" y="219.40" font-size="8.5" font-family="Liberation Sans, sans-serif" font-weight="bold">a-LA+0.7mM SHMP</text>
</svg>
</body></html>
